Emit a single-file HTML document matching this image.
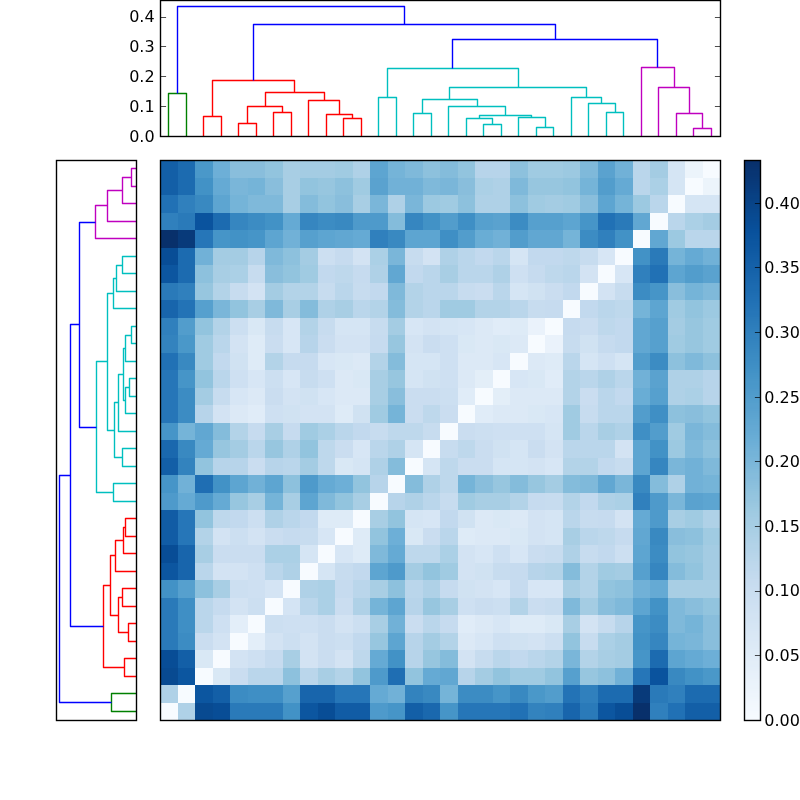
<!DOCTYPE html>
<html><head><meta charset="utf-8"><title>Clustered distance heatmap</title>
<style>html,body{margin:0;padding:0;background:#fff}body{width:800px;height:800px;overflow:hidden}svg{display:block}text{font-family:"DejaVu Sans","Liberation Sans",sans-serif;font-size:16px;fill:#000}</style></head><body>
<svg width="800" height="800" viewBox="0 0 800 800">
<rect width="800" height="800" fill="#fff"/>
<g shape-rendering="crispEdges">
<rect x="160" y="703" width="18" height="17" fill="#f7fbff"/>
<rect x="178" y="703" width="17" height="17" fill="#afd1e7"/>
<rect x="195" y="703" width="18" height="17" fill="#084a91"/>
<rect x="213" y="703" width="17" height="17" fill="#084d96"/>
<rect x="230" y="703" width="53" height="17" fill="#2a7ab9"/>
<rect x="283" y="703" width="17" height="17" fill="#4292c6"/>
<rect x="300" y="703" width="18" height="17" fill="#0c56a0"/>
<rect x="318" y="703" width="17" height="17" fill="#084d96"/>
<rect x="335" y="703" width="35" height="17" fill="#115ca5"/>
<rect x="370" y="703" width="18" height="17" fill="#4e9acb"/>
<rect x="388" y="703" width="17" height="17" fill="#4695c8"/>
<rect x="405" y="703" width="18" height="17" fill="#135fa7"/>
<rect x="423" y="703" width="17" height="17" fill="#1a68ae"/>
<rect x="440" y="703" width="18" height="17" fill="#4695c8"/>
<rect x="458" y="703" width="52" height="17" fill="#2676b8"/>
<rect x="510" y="703" width="18" height="17" fill="#2171b5"/>
<rect x="528" y="703" width="17" height="17" fill="#3383be"/>
<rect x="545" y="703" width="18" height="17" fill="#3080bd"/>
<rect x="563" y="703" width="17" height="17" fill="#1865ac"/>
<rect x="580" y="703" width="18" height="17" fill="#2a7ab9"/>
<rect x="598" y="703" width="17" height="17" fill="#0c56a0"/>
<rect x="615" y="703" width="18" height="17" fill="#084d96"/>
<rect x="633" y="703" width="17" height="17" fill="#08306b"/>
<rect x="650" y="703" width="18" height="17" fill="#3080bd"/>
<rect x="668" y="703" width="17" height="17" fill="#2171b5"/>
<rect x="685" y="703" width="35" height="17" fill="#135fa7"/>
<rect x="160" y="685" width="18" height="18" fill="#afd1e7"/>
<rect x="178" y="685" width="17" height="18" fill="#f7fbff"/>
<rect x="195" y="685" width="18" height="18" fill="#0c56a0"/>
<rect x="213" y="685" width="17" height="18" fill="#135fa7"/>
<rect x="230" y="685" width="18" height="18" fill="#3c8cc3"/>
<rect x="248" y="685" width="35" height="18" fill="#3f8fc5"/>
<rect x="283" y="685" width="17" height="18" fill="#56a0ce"/>
<rect x="300" y="685" width="35" height="18" fill="#1865ac"/>
<rect x="335" y="685" width="35" height="18" fill="#2676b8"/>
<rect x="370" y="685" width="18" height="18" fill="#65aad4"/>
<rect x="388" y="685" width="17" height="18" fill="#71b1d7"/>
<rect x="405" y="685" width="18" height="18" fill="#3383be"/>
<rect x="423" y="685" width="17" height="18" fill="#3989c1"/>
<rect x="440" y="685" width="18" height="18" fill="#75b4d8"/>
<rect x="458" y="685" width="35" height="18" fill="#3c8cc3"/>
<rect x="493" y="685" width="17" height="18" fill="#4695c8"/>
<rect x="510" y="685" width="18" height="18" fill="#3989c1"/>
<rect x="528" y="685" width="17" height="18" fill="#4a98c9"/>
<rect x="545" y="685" width="18" height="18" fill="#529dcc"/>
<rect x="563" y="685" width="17" height="18" fill="#2373b6"/>
<rect x="580" y="685" width="18" height="18" fill="#3080bd"/>
<rect x="598" y="685" width="35" height="18" fill="#1c6bb0"/>
<rect x="633" y="685" width="17" height="18" fill="#083a7a"/>
<rect x="650" y="685" width="18" height="18" fill="#2a7ab9"/>
<rect x="668" y="685" width="17" height="18" fill="#3080bd"/>
<rect x="685" y="685" width="35" height="18" fill="#1c6bb0"/>
<rect x="160" y="668" width="18" height="17" fill="#084a91"/>
<rect x="178" y="668" width="17" height="17" fill="#0c56a0"/>
<rect x="195" y="668" width="18" height="17" fill="#f7fbff"/>
<rect x="213" y="668" width="17" height="17" fill="#d9e8f5"/>
<rect x="230" y="668" width="18" height="17" fill="#caddf0"/>
<rect x="248" y="668" width="35" height="17" fill="#bad6eb"/>
<rect x="283" y="668" width="17" height="17" fill="#8dc1dd"/>
<rect x="300" y="668" width="18" height="17" fill="#bad6eb"/>
<rect x="318" y="668" width="17" height="17" fill="#a8cee4"/>
<rect x="335" y="668" width="18" height="17" fill="#b3d3e8"/>
<rect x="353" y="668" width="17" height="17" fill="#92c4de"/>
<rect x="370" y="668" width="18" height="17" fill="#4e9acb"/>
<rect x="388" y="668" width="17" height="17" fill="#1f6eb3"/>
<rect x="405" y="668" width="18" height="17" fill="#92c4de"/>
<rect x="423" y="668" width="17" height="17" fill="#65aad4"/>
<rect x="440" y="668" width="18" height="17" fill="#61a7d2"/>
<rect x="458" y="668" width="17" height="17" fill="#b7d4ea"/>
<rect x="475" y="668" width="18" height="17" fill="#a4cce3"/>
<rect x="493" y="668" width="17" height="17" fill="#92c4de"/>
<rect x="510" y="668" width="35" height="17" fill="#a0cbe2"/>
<rect x="545" y="668" width="18" height="17" fill="#92c4de"/>
<rect x="563" y="668" width="17" height="17" fill="#56a0ce"/>
<rect x="580" y="668" width="18" height="17" fill="#97c6df"/>
<rect x="598" y="668" width="17" height="17" fill="#8dc1dd"/>
<rect x="615" y="668" width="18" height="17" fill="#71b1d7"/>
<rect x="633" y="668" width="17" height="17" fill="#2676b8"/>
<rect x="650" y="668" width="18" height="17" fill="#0a539e"/>
<rect x="668" y="668" width="17" height="17" fill="#3989c1"/>
<rect x="685" y="668" width="18" height="17" fill="#4292c6"/>
<rect x="703" y="668" width="17" height="17" fill="#4a98c9"/>
<rect x="160" y="650" width="18" height="18" fill="#084d96"/>
<rect x="178" y="650" width="17" height="18" fill="#135fa7"/>
<rect x="195" y="650" width="18" height="18" fill="#d9e8f5"/>
<rect x="213" y="650" width="17" height="18" fill="#f7fbff"/>
<rect x="230" y="650" width="18" height="18" fill="#d3e3f3"/>
<rect x="248" y="650" width="17" height="18" fill="#cee0f2"/>
<rect x="265" y="650" width="18" height="18" fill="#c6dbef"/>
<rect x="283" y="650" width="17" height="18" fill="#a8cee4"/>
<rect x="300" y="650" width="18" height="18" fill="#d3e3f3"/>
<rect x="318" y="650" width="17" height="18" fill="#caddf0"/>
<rect x="335" y="650" width="18" height="18" fill="#d3e3f3"/>
<rect x="353" y="650" width="17" height="18" fill="#bed8ec"/>
<rect x="370" y="650" width="18" height="18" fill="#65aad4"/>
<rect x="388" y="650" width="17" height="18" fill="#4292c6"/>
<rect x="405" y="650" width="18" height="18" fill="#b7d4ea"/>
<rect x="423" y="650" width="17" height="18" fill="#97c6df"/>
<rect x="440" y="650" width="18" height="18" fill="#84bcdb"/>
<rect x="458" y="650" width="17" height="18" fill="#d3e3f3"/>
<rect x="475" y="650" width="18" height="18" fill="#c7dcef"/>
<rect x="493" y="650" width="17" height="18" fill="#bad6eb"/>
<rect x="510" y="650" width="18" height="18" fill="#c2d9ee"/>
<rect x="528" y="650" width="17" height="18" fill="#bad6eb"/>
<rect x="545" y="650" width="18" height="18" fill="#b3d3e8"/>
<rect x="563" y="650" width="17" height="18" fill="#7ab6d9"/>
<rect x="580" y="650" width="18" height="18" fill="#b3d3e8"/>
<rect x="598" y="650" width="17" height="18" fill="#a8cee4"/>
<rect x="615" y="650" width="18" height="18" fill="#a4cce3"/>
<rect x="633" y="650" width="17" height="18" fill="#4695c8"/>
<rect x="650" y="650" width="18" height="18" fill="#1c6bb0"/>
<rect x="668" y="650" width="17" height="18" fill="#5da5d1"/>
<rect x="685" y="650" width="18" height="18" fill="#65aad4"/>
<rect x="703" y="650" width="17" height="18" fill="#6dafd7"/>
<rect x="160" y="633" width="18" height="17" fill="#2a7ab9"/>
<rect x="178" y="633" width="17" height="17" fill="#3c8cc3"/>
<rect x="195" y="633" width="18" height="17" fill="#caddf0"/>
<rect x="213" y="633" width="17" height="17" fill="#d3e3f3"/>
<rect x="230" y="633" width="18" height="17" fill="#f7fbff"/>
<rect x="248" y="633" width="17" height="17" fill="#e3eef9"/>
<rect x="265" y="633" width="18" height="17" fill="#d3e3f3"/>
<rect x="283" y="633" width="17" height="17" fill="#ccdff1"/>
<rect x="300" y="633" width="18" height="17" fill="#d3e3f3"/>
<rect x="318" y="633" width="17" height="17" fill="#caddf0"/>
<rect x="335" y="633" width="18" height="17" fill="#ccdff1"/>
<rect x="353" y="633" width="17" height="17" fill="#c2d9ee"/>
<rect x="370" y="633" width="18" height="17" fill="#97c6df"/>
<rect x="388" y="633" width="17" height="17" fill="#5da5d1"/>
<rect x="405" y="633" width="18" height="17" fill="#b7d4ea"/>
<rect x="423" y="633" width="17" height="17" fill="#a4cce3"/>
<rect x="440" y="633" width="18" height="17" fill="#b3d3e8"/>
<rect x="458" y="633" width="17" height="17" fill="#dce9f6"/>
<rect x="475" y="633" width="18" height="17" fill="#d7e6f5"/>
<rect x="493" y="633" width="17" height="17" fill="#cee0f2"/>
<rect x="510" y="633" width="18" height="17" fill="#d0e2f2"/>
<rect x="528" y="633" width="17" height="17" fill="#d3e3f3"/>
<rect x="545" y="633" width="18" height="17" fill="#ccdff1"/>
<rect x="563" y="633" width="17" height="17" fill="#92c4de"/>
<rect x="580" y="633" width="18" height="17" fill="#c7dcef"/>
<rect x="598" y="633" width="17" height="17" fill="#abd0e6"/>
<rect x="615" y="633" width="18" height="17" fill="#a4cce3"/>
<rect x="633" y="633" width="17" height="17" fill="#4292c6"/>
<rect x="650" y="633" width="18" height="17" fill="#3686c0"/>
<rect x="668" y="633" width="17" height="17" fill="#75b4d8"/>
<rect x="685" y="633" width="18" height="17" fill="#7ab6d9"/>
<rect x="703" y="633" width="17" height="17" fill="#89bedc"/>
<rect x="160" y="615" width="18" height="18" fill="#2a7ab9"/>
<rect x="178" y="615" width="17" height="18" fill="#3f8fc5"/>
<rect x="195" y="615" width="18" height="18" fill="#bad6eb"/>
<rect x="213" y="615" width="17" height="18" fill="#cee0f2"/>
<rect x="230" y="615" width="18" height="18" fill="#e3eef9"/>
<rect x="248" y="615" width="17" height="18" fill="#f7fbff"/>
<rect x="265" y="615" width="18" height="18" fill="#ccdff1"/>
<rect x="283" y="615" width="35" height="18" fill="#cee0f2"/>
<rect x="318" y="615" width="17" height="18" fill="#caddf0"/>
<rect x="335" y="615" width="18" height="18" fill="#d3e3f3"/>
<rect x="353" y="615" width="17" height="18" fill="#ccdff1"/>
<rect x="370" y="615" width="18" height="18" fill="#a8cee4"/>
<rect x="388" y="615" width="17" height="18" fill="#71b1d7"/>
<rect x="405" y="615" width="18" height="18" fill="#caddf0"/>
<rect x="423" y="615" width="17" height="18" fill="#bad6eb"/>
<rect x="440" y="615" width="18" height="18" fill="#c6dbef"/>
<rect x="458" y="615" width="17" height="18" fill="#e0ecf8"/>
<rect x="475" y="615" width="18" height="18" fill="#dce9f6"/>
<rect x="493" y="615" width="17" height="18" fill="#d7e6f5"/>
<rect x="510" y="615" width="35" height="18" fill="#deebf7"/>
<rect x="545" y="615" width="18" height="18" fill="#d9e8f5"/>
<rect x="563" y="615" width="17" height="18" fill="#a8cee4"/>
<rect x="580" y="615" width="18" height="18" fill="#d3e3f3"/>
<rect x="598" y="615" width="17" height="18" fill="#c7dcef"/>
<rect x="615" y="615" width="18" height="18" fill="#b7d4ea"/>
<rect x="633" y="615" width="17" height="18" fill="#4695c8"/>
<rect x="650" y="615" width="18" height="18" fill="#3c8cc3"/>
<rect x="668" y="615" width="17" height="18" fill="#7fb9da"/>
<rect x="685" y="615" width="18" height="18" fill="#75b4d8"/>
<rect x="703" y="615" width="17" height="18" fill="#89bedc"/>
<rect x="160" y="598" width="18" height="17" fill="#2a7ab9"/>
<rect x="178" y="598" width="17" height="17" fill="#3f8fc5"/>
<rect x="195" y="598" width="18" height="17" fill="#bad6eb"/>
<rect x="213" y="598" width="17" height="17" fill="#c6dbef"/>
<rect x="230" y="598" width="18" height="17" fill="#d3e3f3"/>
<rect x="248" y="598" width="17" height="17" fill="#ccdff1"/>
<rect x="265" y="598" width="18" height="17" fill="#f7fbff"/>
<rect x="283" y="598" width="17" height="17" fill="#d4e4f4"/>
<rect x="300" y="598" width="18" height="17" fill="#bad6eb"/>
<rect x="318" y="598" width="17" height="17" fill="#abd0e6"/>
<rect x="335" y="598" width="18" height="17" fill="#caddf0"/>
<rect x="353" y="598" width="17" height="17" fill="#afd1e7"/>
<rect x="370" y="598" width="18" height="17" fill="#75b4d8"/>
<rect x="388" y="598" width="17" height="17" fill="#5da5d1"/>
<rect x="405" y="598" width="18" height="17" fill="#b7d4ea"/>
<rect x="423" y="598" width="17" height="17" fill="#97c6df"/>
<rect x="440" y="598" width="18" height="17" fill="#a8cee4"/>
<rect x="458" y="598" width="17" height="17" fill="#cee0f2"/>
<rect x="475" y="598" width="18" height="17" fill="#caddf0"/>
<rect x="493" y="598" width="17" height="17" fill="#ccdff1"/>
<rect x="510" y="598" width="18" height="17" fill="#b3d3e8"/>
<rect x="528" y="598" width="17" height="17" fill="#caddf0"/>
<rect x="545" y="598" width="18" height="17" fill="#c7dcef"/>
<rect x="563" y="598" width="17" height="17" fill="#7fb9da"/>
<rect x="580" y="598" width="18" height="17" fill="#a4cce3"/>
<rect x="598" y="598" width="17" height="17" fill="#89bedc"/>
<rect x="615" y="598" width="18" height="17" fill="#7fb9da"/>
<rect x="633" y="598" width="17" height="17" fill="#5da5d1"/>
<rect x="650" y="598" width="18" height="17" fill="#4292c6"/>
<rect x="668" y="598" width="17" height="17" fill="#7fb9da"/>
<rect x="685" y="598" width="18" height="17" fill="#89bedc"/>
<rect x="703" y="598" width="17" height="17" fill="#92c4de"/>
<rect x="160" y="580" width="18" height="18" fill="#4292c6"/>
<rect x="178" y="580" width="17" height="18" fill="#56a0ce"/>
<rect x="195" y="580" width="18" height="18" fill="#8dc1dd"/>
<rect x="213" y="580" width="17" height="18" fill="#a8cee4"/>
<rect x="230" y="580" width="18" height="18" fill="#ccdff1"/>
<rect x="248" y="580" width="17" height="18" fill="#cee0f2"/>
<rect x="265" y="580" width="18" height="18" fill="#d4e4f4"/>
<rect x="283" y="580" width="17" height="18" fill="#f7fbff"/>
<rect x="300" y="580" width="18" height="18" fill="#afd1e7"/>
<rect x="318" y="580" width="17" height="18" fill="#abd0e6"/>
<rect x="335" y="580" width="18" height="18" fill="#c6dbef"/>
<rect x="353" y="580" width="17" height="18" fill="#bad6eb"/>
<rect x="370" y="580" width="18" height="18" fill="#a8cee4"/>
<rect x="388" y="580" width="17" height="18" fill="#8dc1dd"/>
<rect x="405" y="580" width="18" height="18" fill="#bad6eb"/>
<rect x="423" y="580" width="17" height="18" fill="#afd1e7"/>
<rect x="440" y="580" width="18" height="18" fill="#c6dbef"/>
<rect x="458" y="580" width="17" height="18" fill="#d0e2f2"/>
<rect x="475" y="580" width="18" height="18" fill="#d3e3f3"/>
<rect x="493" y="580" width="17" height="18" fill="#d7e6f5"/>
<rect x="510" y="580" width="18" height="18" fill="#c6dbef"/>
<rect x="528" y="580" width="35" height="18" fill="#d7e6f5"/>
<rect x="563" y="580" width="17" height="18" fill="#a8cee4"/>
<rect x="580" y="580" width="18" height="18" fill="#b3d3e8"/>
<rect x="598" y="580" width="17" height="18" fill="#92c4de"/>
<rect x="615" y="580" width="18" height="18" fill="#8dc1dd"/>
<rect x="633" y="580" width="17" height="18" fill="#71b1d7"/>
<rect x="650" y="580" width="18" height="18" fill="#65aad4"/>
<rect x="668" y="580" width="52" height="18" fill="#a8cee4"/>
<rect x="160" y="563" width="18" height="17" fill="#0c56a0"/>
<rect x="178" y="563" width="17" height="17" fill="#1865ac"/>
<rect x="195" y="563" width="18" height="17" fill="#bad6eb"/>
<rect x="213" y="563" width="35" height="17" fill="#d3e3f3"/>
<rect x="248" y="563" width="17" height="17" fill="#cee0f2"/>
<rect x="265" y="563" width="18" height="17" fill="#bad6eb"/>
<rect x="283" y="563" width="17" height="17" fill="#afd1e7"/>
<rect x="300" y="563" width="18" height="17" fill="#f7fbff"/>
<rect x="318" y="563" width="17" height="17" fill="#d5e5f4"/>
<rect x="335" y="563" width="18" height="17" fill="#c7dcef"/>
<rect x="353" y="563" width="17" height="17" fill="#c2d9ee"/>
<rect x="370" y="563" width="18" height="17" fill="#5da5d1"/>
<rect x="388" y="563" width="17" height="17" fill="#4e9acb"/>
<rect x="405" y="563" width="18" height="17" fill="#a4cce3"/>
<rect x="423" y="563" width="17" height="17" fill="#92c4de"/>
<rect x="440" y="563" width="18" height="17" fill="#a0cbe2"/>
<rect x="458" y="563" width="17" height="17" fill="#d3e3f3"/>
<rect x="475" y="563" width="18" height="17" fill="#d0e2f2"/>
<rect x="493" y="563" width="17" height="17" fill="#c7dcef"/>
<rect x="510" y="563" width="18" height="17" fill="#c6dbef"/>
<rect x="528" y="563" width="17" height="17" fill="#b7d4ea"/>
<rect x="545" y="563" width="18" height="17" fill="#b3d3e8"/>
<rect x="563" y="563" width="17" height="17" fill="#84bcdb"/>
<rect x="580" y="563" width="18" height="17" fill="#b3d3e8"/>
<rect x="598" y="563" width="17" height="17" fill="#a0cbe2"/>
<rect x="615" y="563" width="18" height="17" fill="#a4cce3"/>
<rect x="633" y="563" width="17" height="17" fill="#56a0ce"/>
<rect x="650" y="563" width="18" height="17" fill="#3686c0"/>
<rect x="668" y="563" width="17" height="17" fill="#84bcdb"/>
<rect x="685" y="563" width="18" height="17" fill="#92c4de"/>
<rect x="703" y="563" width="17" height="17" fill="#a4cce3"/>
<rect x="160" y="545" width="18" height="18" fill="#084d96"/>
<rect x="178" y="545" width="17" height="18" fill="#1865ac"/>
<rect x="195" y="545" width="18" height="18" fill="#a8cee4"/>
<rect x="213" y="545" width="52" height="18" fill="#caddf0"/>
<rect x="265" y="545" width="35" height="18" fill="#abd0e6"/>
<rect x="300" y="545" width="18" height="18" fill="#d5e5f4"/>
<rect x="318" y="545" width="17" height="18" fill="#f7fbff"/>
<rect x="335" y="545" width="18" height="18" fill="#d7e6f5"/>
<rect x="353" y="545" width="17" height="18" fill="#deebf7"/>
<rect x="370" y="545" width="18" height="18" fill="#7fb9da"/>
<rect x="388" y="545" width="17" height="18" fill="#65aad4"/>
<rect x="405" y="545" width="35" height="18" fill="#bed8ec"/>
<rect x="440" y="545" width="18" height="18" fill="#abd0e6"/>
<rect x="458" y="545" width="17" height="18" fill="#d3e3f3"/>
<rect x="475" y="545" width="18" height="18" fill="#d7e6f5"/>
<rect x="493" y="545" width="17" height="18" fill="#cee0f2"/>
<rect x="510" y="545" width="18" height="18" fill="#d7e6f5"/>
<rect x="528" y="545" width="17" height="18" fill="#caddf0"/>
<rect x="545" y="545" width="18" height="18" fill="#c7dcef"/>
<rect x="563" y="545" width="17" height="18" fill="#afd1e7"/>
<rect x="580" y="545" width="18" height="18" fill="#c7dcef"/>
<rect x="598" y="545" width="17" height="18" fill="#c2d9ee"/>
<rect x="615" y="545" width="18" height="18" fill="#ccdff1"/>
<rect x="633" y="545" width="17" height="18" fill="#5da5d1"/>
<rect x="650" y="545" width="18" height="18" fill="#3c8cc3"/>
<rect x="668" y="545" width="17" height="18" fill="#92c4de"/>
<rect x="685" y="545" width="18" height="18" fill="#97c6df"/>
<rect x="703" y="545" width="17" height="18" fill="#a4cce3"/>
<rect x="160" y="528" width="18" height="17" fill="#115ca5"/>
<rect x="178" y="528" width="17" height="17" fill="#2676b8"/>
<rect x="195" y="528" width="18" height="17" fill="#b3d3e8"/>
<rect x="213" y="528" width="17" height="17" fill="#d3e3f3"/>
<rect x="230" y="528" width="18" height="17" fill="#ccdff1"/>
<rect x="248" y="528" width="17" height="17" fill="#d3e3f3"/>
<rect x="265" y="528" width="18" height="17" fill="#caddf0"/>
<rect x="283" y="528" width="17" height="17" fill="#c6dbef"/>
<rect x="300" y="528" width="18" height="17" fill="#c7dcef"/>
<rect x="318" y="528" width="17" height="17" fill="#d7e6f5"/>
<rect x="335" y="528" width="18" height="17" fill="#f7fbff"/>
<rect x="353" y="528" width="17" height="17" fill="#deebf7"/>
<rect x="370" y="528" width="18" height="17" fill="#92c4de"/>
<rect x="388" y="528" width="17" height="17" fill="#6dafd7"/>
<rect x="405" y="528" width="18" height="17" fill="#d9e8f5"/>
<rect x="423" y="528" width="17" height="17" fill="#caddf0"/>
<rect x="440" y="528" width="18" height="17" fill="#bad6eb"/>
<rect x="458" y="528" width="17" height="17" fill="#deebf7"/>
<rect x="475" y="528" width="35" height="17" fill="#dce9f6"/>
<rect x="510" y="528" width="18" height="17" fill="#d9e8f5"/>
<rect x="528" y="528" width="17" height="17" fill="#d3e3f3"/>
<rect x="545" y="528" width="18" height="17" fill="#d5e5f4"/>
<rect x="563" y="528" width="17" height="17" fill="#a8cee4"/>
<rect x="580" y="528" width="18" height="17" fill="#bad6eb"/>
<rect x="598" y="528" width="17" height="17" fill="#bed8ec"/>
<rect x="615" y="528" width="18" height="17" fill="#c6dbef"/>
<rect x="633" y="528" width="17" height="17" fill="#61a7d2"/>
<rect x="650" y="528" width="18" height="17" fill="#3989c1"/>
<rect x="668" y="528" width="17" height="17" fill="#89bedc"/>
<rect x="685" y="528" width="18" height="17" fill="#8dc1dd"/>
<rect x="703" y="528" width="17" height="17" fill="#a0cbe2"/>
<rect x="160" y="510" width="18" height="18" fill="#115ca5"/>
<rect x="178" y="510" width="17" height="18" fill="#2676b8"/>
<rect x="195" y="510" width="18" height="18" fill="#92c4de"/>
<rect x="213" y="510" width="17" height="18" fill="#bed8ec"/>
<rect x="230" y="510" width="18" height="18" fill="#c2d9ee"/>
<rect x="248" y="510" width="17" height="18" fill="#ccdff1"/>
<rect x="265" y="510" width="18" height="18" fill="#afd1e7"/>
<rect x="283" y="510" width="17" height="18" fill="#bad6eb"/>
<rect x="300" y="510" width="18" height="18" fill="#c2d9ee"/>
<rect x="318" y="510" width="35" height="18" fill="#deebf7"/>
<rect x="353" y="510" width="17" height="18" fill="#f7fbff"/>
<rect x="370" y="510" width="18" height="18" fill="#a8cee4"/>
<rect x="388" y="510" width="17" height="18" fill="#92c4de"/>
<rect x="405" y="510" width="18" height="18" fill="#d5e5f4"/>
<rect x="423" y="510" width="17" height="18" fill="#d7e6f5"/>
<rect x="440" y="510" width="18" height="18" fill="#c2d9ee"/>
<rect x="458" y="510" width="17" height="18" fill="#d0e2f2"/>
<rect x="475" y="510" width="18" height="18" fill="#dce9f6"/>
<rect x="493" y="510" width="17" height="18" fill="#d9e8f5"/>
<rect x="510" y="510" width="18" height="18" fill="#dce9f6"/>
<rect x="528" y="510" width="17" height="18" fill="#d3e3f3"/>
<rect x="545" y="510" width="18" height="18" fill="#d5e5f4"/>
<rect x="563" y="510" width="17" height="18" fill="#bad6eb"/>
<rect x="580" y="510" width="18" height="18" fill="#c7dcef"/>
<rect x="598" y="510" width="17" height="18" fill="#c6dbef"/>
<rect x="615" y="510" width="18" height="18" fill="#d3e3f3"/>
<rect x="633" y="510" width="17" height="18" fill="#65aad4"/>
<rect x="650" y="510" width="18" height="18" fill="#4e9acb"/>
<rect x="668" y="510" width="17" height="18" fill="#a8cee4"/>
<rect x="685" y="510" width="18" height="18" fill="#a0cbe2"/>
<rect x="703" y="510" width="17" height="18" fill="#afd1e7"/>
<rect x="160" y="493" width="18" height="17" fill="#4e9acb"/>
<rect x="178" y="493" width="17" height="17" fill="#65aad4"/>
<rect x="195" y="493" width="18" height="17" fill="#4e9acb"/>
<rect x="213" y="493" width="17" height="17" fill="#65aad4"/>
<rect x="230" y="493" width="18" height="17" fill="#97c6df"/>
<rect x="248" y="493" width="17" height="17" fill="#a8cee4"/>
<rect x="265" y="493" width="18" height="17" fill="#75b4d8"/>
<rect x="283" y="493" width="17" height="17" fill="#a8cee4"/>
<rect x="300" y="493" width="18" height="17" fill="#5da5d1"/>
<rect x="318" y="493" width="17" height="17" fill="#7fb9da"/>
<rect x="335" y="493" width="18" height="17" fill="#92c4de"/>
<rect x="353" y="493" width="17" height="17" fill="#a8cee4"/>
<rect x="370" y="493" width="18" height="17" fill="#f7fbff"/>
<rect x="388" y="493" width="17" height="17" fill="#b7d4ea"/>
<rect x="405" y="493" width="18" height="17" fill="#afd1e7"/>
<rect x="423" y="493" width="17" height="17" fill="#bad6eb"/>
<rect x="440" y="493" width="18" height="17" fill="#c7dcef"/>
<rect x="458" y="493" width="17" height="17" fill="#a0cbe2"/>
<rect x="475" y="493" width="35" height="17" fill="#a8cee4"/>
<rect x="510" y="493" width="18" height="17" fill="#b3d3e8"/>
<rect x="528" y="493" width="17" height="17" fill="#c6dbef"/>
<rect x="545" y="493" width="18" height="17" fill="#c7dcef"/>
<rect x="563" y="493" width="17" height="17" fill="#b3d3e8"/>
<rect x="580" y="493" width="18" height="17" fill="#c2d9ee"/>
<rect x="598" y="493" width="17" height="17" fill="#afd1e7"/>
<rect x="615" y="493" width="18" height="17" fill="#abd0e6"/>
<rect x="633" y="493" width="17" height="17" fill="#3080bd"/>
<rect x="650" y="493" width="18" height="17" fill="#4e9acb"/>
<rect x="668" y="493" width="17" height="17" fill="#7ab6d9"/>
<rect x="685" y="493" width="18" height="17" fill="#5aa2cf"/>
<rect x="703" y="493" width="17" height="17" fill="#5da5d1"/>
<rect x="160" y="475" width="18" height="18" fill="#4695c8"/>
<rect x="178" y="475" width="17" height="18" fill="#71b1d7"/>
<rect x="195" y="475" width="18" height="18" fill="#1f6eb3"/>
<rect x="213" y="475" width="17" height="18" fill="#4292c6"/>
<rect x="230" y="475" width="18" height="18" fill="#5da5d1"/>
<rect x="248" y="475" width="17" height="18" fill="#71b1d7"/>
<rect x="265" y="475" width="18" height="18" fill="#5da5d1"/>
<rect x="283" y="475" width="17" height="18" fill="#8dc1dd"/>
<rect x="300" y="475" width="18" height="18" fill="#4e9acb"/>
<rect x="318" y="475" width="17" height="18" fill="#65aad4"/>
<rect x="335" y="475" width="18" height="18" fill="#6dafd7"/>
<rect x="353" y="475" width="17" height="18" fill="#92c4de"/>
<rect x="370" y="475" width="18" height="18" fill="#b7d4ea"/>
<rect x="388" y="475" width="17" height="18" fill="#f7fbff"/>
<rect x="405" y="475" width="18" height="18" fill="#84bcdb"/>
<rect x="423" y="475" width="17" height="18" fill="#afd1e7"/>
<rect x="440" y="475" width="18" height="18" fill="#bed8ec"/>
<rect x="458" y="475" width="17" height="18" fill="#75b4d8"/>
<rect x="475" y="475" width="18" height="18" fill="#89bedc"/>
<rect x="493" y="475" width="17" height="18" fill="#97c6df"/>
<rect x="510" y="475" width="18" height="18" fill="#84bcdb"/>
<rect x="528" y="475" width="17" height="18" fill="#97c6df"/>
<rect x="545" y="475" width="18" height="18" fill="#a4cce3"/>
<rect x="563" y="475" width="17" height="18" fill="#84bcdb"/>
<rect x="580" y="475" width="18" height="18" fill="#7fb9da"/>
<rect x="598" y="475" width="17" height="18" fill="#61a7d2"/>
<rect x="615" y="475" width="18" height="18" fill="#7ab6d9"/>
<rect x="633" y="475" width="17" height="18" fill="#3989c1"/>
<rect x="650" y="475" width="18" height="18" fill="#84bcdb"/>
<rect x="668" y="475" width="17" height="18" fill="#afd1e7"/>
<rect x="685" y="475" width="18" height="18" fill="#71b1d7"/>
<rect x="703" y="475" width="17" height="18" fill="#75b4d8"/>
<rect x="160" y="458" width="18" height="17" fill="#135fa7"/>
<rect x="178" y="458" width="17" height="17" fill="#3383be"/>
<rect x="195" y="458" width="18" height="17" fill="#92c4de"/>
<rect x="213" y="458" width="35" height="17" fill="#b7d4ea"/>
<rect x="248" y="458" width="17" height="17" fill="#caddf0"/>
<rect x="265" y="458" width="18" height="17" fill="#b7d4ea"/>
<rect x="283" y="458" width="17" height="17" fill="#bad6eb"/>
<rect x="300" y="458" width="18" height="17" fill="#a4cce3"/>
<rect x="318" y="458" width="17" height="17" fill="#bed8ec"/>
<rect x="335" y="458" width="18" height="17" fill="#d9e8f5"/>
<rect x="353" y="458" width="17" height="17" fill="#d5e5f4"/>
<rect x="370" y="458" width="18" height="17" fill="#afd1e7"/>
<rect x="388" y="458" width="17" height="17" fill="#84bcdb"/>
<rect x="405" y="458" width="18" height="17" fill="#f7fbff"/>
<rect x="423" y="458" width="17" height="17" fill="#d5e5f4"/>
<rect x="440" y="458" width="18" height="17" fill="#bed8ec"/>
<rect x="458" y="458" width="35" height="17" fill="#caddf0"/>
<rect x="493" y="458" width="35" height="17" fill="#d5e5f4"/>
<rect x="528" y="458" width="17" height="17" fill="#d3e3f3"/>
<rect x="545" y="458" width="18" height="17" fill="#d7e6f5"/>
<rect x="563" y="458" width="35" height="17" fill="#b3d3e8"/>
<rect x="598" y="458" width="17" height="17" fill="#c2d9ee"/>
<rect x="615" y="458" width="18" height="17" fill="#c7dcef"/>
<rect x="633" y="458" width="17" height="17" fill="#5da5d1"/>
<rect x="650" y="458" width="18" height="17" fill="#3686c0"/>
<rect x="668" y="458" width="17" height="17" fill="#7ab6d9"/>
<rect x="685" y="458" width="18" height="17" fill="#71b1d7"/>
<rect x="703" y="458" width="17" height="17" fill="#7fb9da"/>
<rect x="160" y="440" width="18" height="18" fill="#1a68ae"/>
<rect x="178" y="440" width="17" height="18" fill="#3989c1"/>
<rect x="195" y="440" width="18" height="18" fill="#65aad4"/>
<rect x="213" y="440" width="17" height="18" fill="#97c6df"/>
<rect x="230" y="440" width="18" height="18" fill="#a4cce3"/>
<rect x="248" y="440" width="17" height="18" fill="#bad6eb"/>
<rect x="265" y="440" width="18" height="18" fill="#97c6df"/>
<rect x="283" y="440" width="17" height="18" fill="#afd1e7"/>
<rect x="300" y="440" width="18" height="18" fill="#92c4de"/>
<rect x="318" y="440" width="17" height="18" fill="#bed8ec"/>
<rect x="335" y="440" width="18" height="18" fill="#caddf0"/>
<rect x="353" y="440" width="17" height="18" fill="#d7e6f5"/>
<rect x="370" y="440" width="18" height="18" fill="#bad6eb"/>
<rect x="388" y="440" width="17" height="18" fill="#afd1e7"/>
<rect x="405" y="440" width="18" height="18" fill="#d5e5f4"/>
<rect x="423" y="440" width="17" height="18" fill="#f7fbff"/>
<rect x="440" y="440" width="18" height="18" fill="#c7dcef"/>
<rect x="458" y="440" width="17" height="18" fill="#bed8ec"/>
<rect x="475" y="440" width="18" height="18" fill="#caddf0"/>
<rect x="493" y="440" width="17" height="18" fill="#d0e2f2"/>
<rect x="510" y="440" width="18" height="18" fill="#d5e5f4"/>
<rect x="528" y="440" width="17" height="18" fill="#caddf0"/>
<rect x="545" y="440" width="18" height="18" fill="#d3e3f3"/>
<rect x="563" y="440" width="52" height="18" fill="#bad6eb"/>
<rect x="615" y="440" width="18" height="18" fill="#d3e3f3"/>
<rect x="633" y="440" width="17" height="18" fill="#5da5d1"/>
<rect x="650" y="440" width="18" height="18" fill="#4292c6"/>
<rect x="668" y="440" width="17" height="18" fill="#9cc9e1"/>
<rect x="685" y="440" width="18" height="18" fill="#7fb9da"/>
<rect x="703" y="440" width="17" height="18" fill="#8dc1dd"/>
<rect x="160" y="423" width="18" height="17" fill="#4695c8"/>
<rect x="178" y="423" width="17" height="17" fill="#75b4d8"/>
<rect x="195" y="423" width="18" height="17" fill="#61a7d2"/>
<rect x="213" y="423" width="17" height="17" fill="#84bcdb"/>
<rect x="230" y="423" width="18" height="17" fill="#b3d3e8"/>
<rect x="248" y="423" width="17" height="17" fill="#c6dbef"/>
<rect x="265" y="423" width="18" height="17" fill="#a8cee4"/>
<rect x="283" y="423" width="17" height="17" fill="#c6dbef"/>
<rect x="300" y="423" width="18" height="17" fill="#a0cbe2"/>
<rect x="318" y="423" width="17" height="17" fill="#abd0e6"/>
<rect x="335" y="423" width="18" height="17" fill="#bad6eb"/>
<rect x="353" y="423" width="17" height="17" fill="#c2d9ee"/>
<rect x="370" y="423" width="18" height="17" fill="#c7dcef"/>
<rect x="388" y="423" width="35" height="17" fill="#bed8ec"/>
<rect x="423" y="423" width="17" height="17" fill="#c7dcef"/>
<rect x="440" y="423" width="18" height="17" fill="#f7fbff"/>
<rect x="458" y="423" width="17" height="17" fill="#caddf0"/>
<rect x="475" y="423" width="18" height="17" fill="#ccdff1"/>
<rect x="493" y="423" width="52" height="17" fill="#cee0f2"/>
<rect x="545" y="423" width="18" height="17" fill="#d5e5f4"/>
<rect x="563" y="423" width="17" height="17" fill="#a0cbe2"/>
<rect x="580" y="423" width="18" height="17" fill="#bad6eb"/>
<rect x="598" y="423" width="17" height="17" fill="#a8cee4"/>
<rect x="615" y="423" width="18" height="17" fill="#afd1e7"/>
<rect x="633" y="423" width="17" height="17" fill="#3f8fc5"/>
<rect x="650" y="423" width="18" height="17" fill="#529dcc"/>
<rect x="668" y="423" width="17" height="17" fill="#a0cbe2"/>
<rect x="685" y="423" width="18" height="17" fill="#7ab6d9"/>
<rect x="703" y="423" width="17" height="17" fill="#84bcdb"/>
<rect x="160" y="405" width="18" height="18" fill="#2676b8"/>
<rect x="178" y="405" width="17" height="18" fill="#3c8cc3"/>
<rect x="195" y="405" width="18" height="18" fill="#b7d4ea"/>
<rect x="213" y="405" width="17" height="18" fill="#d3e3f3"/>
<rect x="230" y="405" width="18" height="18" fill="#dce9f6"/>
<rect x="248" y="405" width="17" height="18" fill="#e0ecf8"/>
<rect x="265" y="405" width="18" height="18" fill="#cee0f2"/>
<rect x="283" y="405" width="17" height="18" fill="#d0e2f2"/>
<rect x="300" y="405" width="35" height="18" fill="#d3e3f3"/>
<rect x="335" y="405" width="18" height="18" fill="#deebf7"/>
<rect x="353" y="405" width="17" height="18" fill="#d0e2f2"/>
<rect x="370" y="405" width="18" height="18" fill="#a0cbe2"/>
<rect x="388" y="405" width="17" height="18" fill="#75b4d8"/>
<rect x="405" y="405" width="18" height="18" fill="#caddf0"/>
<rect x="423" y="405" width="17" height="18" fill="#bed8ec"/>
<rect x="440" y="405" width="18" height="18" fill="#caddf0"/>
<rect x="458" y="405" width="17" height="18" fill="#f7fbff"/>
<rect x="475" y="405" width="18" height="18" fill="#e0ecf8"/>
<rect x="493" y="405" width="35" height="18" fill="#dce9f6"/>
<rect x="528" y="405" width="17" height="18" fill="#d9e8f5"/>
<rect x="545" y="405" width="18" height="18" fill="#d7e6f5"/>
<rect x="563" y="405" width="17" height="18" fill="#a0cbe2"/>
<rect x="580" y="405" width="18" height="18" fill="#c7dcef"/>
<rect x="598" y="405" width="35" height="18" fill="#bad6eb"/>
<rect x="633" y="405" width="17" height="18" fill="#529dcc"/>
<rect x="650" y="405" width="18" height="18" fill="#3f8fc5"/>
<rect x="668" y="405" width="17" height="18" fill="#8dc1dd"/>
<rect x="685" y="405" width="18" height="18" fill="#89bedc"/>
<rect x="703" y="405" width="17" height="18" fill="#92c4de"/>
<rect x="160" y="388" width="18" height="17" fill="#2676b8"/>
<rect x="178" y="388" width="17" height="17" fill="#3c8cc3"/>
<rect x="195" y="388" width="18" height="17" fill="#a4cce3"/>
<rect x="213" y="388" width="17" height="17" fill="#c7dcef"/>
<rect x="230" y="388" width="18" height="17" fill="#d7e6f5"/>
<rect x="248" y="388" width="17" height="17" fill="#dce9f6"/>
<rect x="265" y="388" width="18" height="17" fill="#caddf0"/>
<rect x="283" y="388" width="17" height="17" fill="#d3e3f3"/>
<rect x="300" y="388" width="18" height="17" fill="#d0e2f2"/>
<rect x="318" y="388" width="17" height="17" fill="#d7e6f5"/>
<rect x="335" y="388" width="35" height="17" fill="#dce9f6"/>
<rect x="370" y="388" width="18" height="17" fill="#a8cee4"/>
<rect x="388" y="388" width="17" height="17" fill="#89bedc"/>
<rect x="405" y="388" width="35" height="17" fill="#caddf0"/>
<rect x="440" y="388" width="18" height="17" fill="#ccdff1"/>
<rect x="458" y="388" width="17" height="17" fill="#e0ecf8"/>
<rect x="475" y="388" width="18" height="17" fill="#f7fbff"/>
<rect x="493" y="388" width="17" height="17" fill="#e3eef8"/>
<rect x="510" y="388" width="53" height="17" fill="#dce9f6"/>
<rect x="563" y="388" width="17" height="17" fill="#b3d3e8"/>
<rect x="580" y="388" width="18" height="17" fill="#caddf0"/>
<rect x="598" y="388" width="17" height="17" fill="#bad6eb"/>
<rect x="615" y="388" width="18" height="17" fill="#c2d9ee"/>
<rect x="633" y="388" width="17" height="17" fill="#69add5"/>
<rect x="650" y="388" width="18" height="17" fill="#56a0ce"/>
<rect x="668" y="388" width="17" height="17" fill="#afd1e7"/>
<rect x="685" y="388" width="18" height="17" fill="#abd0e6"/>
<rect x="703" y="388" width="17" height="17" fill="#b7d4ea"/>
<rect x="160" y="370" width="18" height="18" fill="#2676b8"/>
<rect x="178" y="370" width="17" height="18" fill="#4695c8"/>
<rect x="195" y="370" width="18" height="18" fill="#92c4de"/>
<rect x="213" y="370" width="17" height="18" fill="#bad6eb"/>
<rect x="230" y="370" width="18" height="18" fill="#cee0f2"/>
<rect x="248" y="370" width="17" height="18" fill="#d7e6f5"/>
<rect x="265" y="370" width="18" height="18" fill="#ccdff1"/>
<rect x="283" y="370" width="17" height="18" fill="#d7e6f5"/>
<rect x="300" y="370" width="18" height="18" fill="#c7dcef"/>
<rect x="318" y="370" width="17" height="18" fill="#cee0f2"/>
<rect x="335" y="370" width="18" height="18" fill="#dce9f6"/>
<rect x="353" y="370" width="17" height="18" fill="#d9e8f5"/>
<rect x="370" y="370" width="18" height="18" fill="#a8cee4"/>
<rect x="388" y="370" width="17" height="18" fill="#97c6df"/>
<rect x="405" y="370" width="18" height="18" fill="#d5e5f4"/>
<rect x="423" y="370" width="17" height="18" fill="#d0e2f2"/>
<rect x="440" y="370" width="18" height="18" fill="#cee0f2"/>
<rect x="458" y="370" width="17" height="18" fill="#dce9f6"/>
<rect x="475" y="370" width="18" height="18" fill="#e3eef8"/>
<rect x="493" y="370" width="17" height="18" fill="#f7fbff"/>
<rect x="510" y="370" width="18" height="18" fill="#d7e6f5"/>
<rect x="528" y="370" width="17" height="18" fill="#d9e8f5"/>
<rect x="545" y="370" width="18" height="18" fill="#e0ecf8"/>
<rect x="563" y="370" width="17" height="18" fill="#b3d3e8"/>
<rect x="580" y="370" width="18" height="18" fill="#bad6eb"/>
<rect x="598" y="370" width="17" height="18" fill="#afd1e7"/>
<rect x="615" y="370" width="18" height="18" fill="#bad6eb"/>
<rect x="633" y="370" width="17" height="18" fill="#71b1d7"/>
<rect x="650" y="370" width="18" height="18" fill="#5aa2cf"/>
<rect x="668" y="370" width="35" height="18" fill="#afd1e7"/>
<rect x="703" y="370" width="17" height="18" fill="#b7d4ea"/>
<rect x="160" y="353" width="18" height="17" fill="#2171b5"/>
<rect x="178" y="353" width="17" height="17" fill="#3989c1"/>
<rect x="195" y="353" width="18" height="17" fill="#a0cbe2"/>
<rect x="213" y="353" width="17" height="17" fill="#c2d9ee"/>
<rect x="230" y="353" width="18" height="17" fill="#d0e2f2"/>
<rect x="248" y="353" width="17" height="17" fill="#deebf7"/>
<rect x="265" y="353" width="18" height="17" fill="#b3d3e8"/>
<rect x="283" y="353" width="35" height="17" fill="#c6dbef"/>
<rect x="318" y="353" width="17" height="17" fill="#d7e6f5"/>
<rect x="335" y="353" width="18" height="17" fill="#d9e8f5"/>
<rect x="353" y="353" width="17" height="17" fill="#dce9f6"/>
<rect x="370" y="353" width="18" height="17" fill="#b3d3e8"/>
<rect x="388" y="353" width="17" height="17" fill="#84bcdb"/>
<rect x="405" y="353" width="35" height="17" fill="#d5e5f4"/>
<rect x="440" y="353" width="18" height="17" fill="#cee0f2"/>
<rect x="458" y="353" width="35" height="17" fill="#dce9f6"/>
<rect x="493" y="353" width="17" height="17" fill="#d7e6f5"/>
<rect x="510" y="353" width="18" height="17" fill="#f7fbff"/>
<rect x="528" y="353" width="17" height="17" fill="#dce9f6"/>
<rect x="545" y="353" width="18" height="17" fill="#deebf7"/>
<rect x="563" y="353" width="17" height="17" fill="#bad6eb"/>
<rect x="580" y="353" width="18" height="17" fill="#d5e5f4"/>
<rect x="598" y="353" width="17" height="17" fill="#cee0f2"/>
<rect x="615" y="353" width="18" height="17" fill="#d5e5f4"/>
<rect x="633" y="353" width="17" height="17" fill="#529dcc"/>
<rect x="650" y="353" width="18" height="17" fill="#3c8cc3"/>
<rect x="668" y="353" width="17" height="17" fill="#8dc1dd"/>
<rect x="685" y="353" width="18" height="17" fill="#7fb9da"/>
<rect x="703" y="353" width="17" height="17" fill="#8dc1dd"/>
<rect x="160" y="335" width="18" height="18" fill="#3383be"/>
<rect x="178" y="335" width="17" height="18" fill="#4a98c9"/>
<rect x="195" y="335" width="18" height="18" fill="#a0cbe2"/>
<rect x="213" y="335" width="17" height="18" fill="#bad6eb"/>
<rect x="230" y="335" width="18" height="18" fill="#d3e3f3"/>
<rect x="248" y="335" width="17" height="18" fill="#deebf7"/>
<rect x="265" y="335" width="18" height="18" fill="#caddf0"/>
<rect x="283" y="335" width="17" height="18" fill="#d7e6f5"/>
<rect x="300" y="335" width="18" height="18" fill="#b7d4ea"/>
<rect x="318" y="335" width="17" height="18" fill="#caddf0"/>
<rect x="335" y="335" width="35" height="18" fill="#d3e3f3"/>
<rect x="370" y="335" width="18" height="18" fill="#c6dbef"/>
<rect x="388" y="335" width="17" height="18" fill="#97c6df"/>
<rect x="405" y="335" width="18" height="18" fill="#d3e3f3"/>
<rect x="423" y="335" width="17" height="18" fill="#caddf0"/>
<rect x="440" y="335" width="18" height="18" fill="#cee0f2"/>
<rect x="458" y="335" width="17" height="18" fill="#d9e8f5"/>
<rect x="475" y="335" width="18" height="18" fill="#dce9f6"/>
<rect x="493" y="335" width="17" height="18" fill="#d9e8f5"/>
<rect x="510" y="335" width="18" height="18" fill="#dce9f6"/>
<rect x="528" y="335" width="17" height="18" fill="#f7fbff"/>
<rect x="545" y="335" width="18" height="18" fill="#eaf2fb"/>
<rect x="563" y="335" width="17" height="18" fill="#c7dcef"/>
<rect x="580" y="335" width="18" height="18" fill="#d0e2f2"/>
<rect x="598" y="335" width="17" height="18" fill="#c6dbef"/>
<rect x="615" y="335" width="18" height="18" fill="#c2d9ee"/>
<rect x="633" y="335" width="17" height="18" fill="#61a7d2"/>
<rect x="650" y="335" width="18" height="18" fill="#56a0ce"/>
<rect x="668" y="335" width="17" height="18" fill="#a0cbe2"/>
<rect x="685" y="335" width="18" height="18" fill="#97c6df"/>
<rect x="703" y="335" width="17" height="18" fill="#a0cbe2"/>
<rect x="160" y="318" width="18" height="17" fill="#3080bd"/>
<rect x="178" y="318" width="17" height="17" fill="#529dcc"/>
<rect x="195" y="318" width="18" height="17" fill="#92c4de"/>
<rect x="213" y="318" width="17" height="17" fill="#b3d3e8"/>
<rect x="230" y="318" width="18" height="17" fill="#ccdff1"/>
<rect x="248" y="318" width="17" height="17" fill="#d9e8f5"/>
<rect x="265" y="318" width="18" height="17" fill="#c7dcef"/>
<rect x="283" y="318" width="17" height="17" fill="#d7e6f5"/>
<rect x="300" y="318" width="18" height="17" fill="#b3d3e8"/>
<rect x="318" y="318" width="17" height="17" fill="#c7dcef"/>
<rect x="335" y="318" width="35" height="17" fill="#d5e5f4"/>
<rect x="370" y="318" width="18" height="17" fill="#c7dcef"/>
<rect x="388" y="318" width="17" height="17" fill="#a4cce3"/>
<rect x="405" y="318" width="18" height="17" fill="#d7e6f5"/>
<rect x="423" y="318" width="17" height="17" fill="#d3e3f3"/>
<rect x="440" y="318" width="18" height="17" fill="#d5e5f4"/>
<rect x="458" y="318" width="17" height="17" fill="#d7e6f5"/>
<rect x="475" y="318" width="18" height="17" fill="#dce9f6"/>
<rect x="493" y="318" width="17" height="17" fill="#e0ecf8"/>
<rect x="510" y="318" width="18" height="17" fill="#deebf7"/>
<rect x="528" y="318" width="17" height="17" fill="#eaf2fb"/>
<rect x="545" y="318" width="18" height="17" fill="#f7fbff"/>
<rect x="563" y="318" width="17" height="17" fill="#c6dbef"/>
<rect x="580" y="318" width="18" height="17" fill="#caddf0"/>
<rect x="598" y="318" width="17" height="17" fill="#bed8ec"/>
<rect x="615" y="318" width="18" height="17" fill="#c2d9ee"/>
<rect x="633" y="318" width="17" height="17" fill="#61a7d2"/>
<rect x="650" y="318" width="18" height="17" fill="#56a0ce"/>
<rect x="668" y="318" width="17" height="17" fill="#a4cce3"/>
<rect x="685" y="318" width="18" height="17" fill="#97c6df"/>
<rect x="703" y="318" width="17" height="17" fill="#a0cbe2"/>
<rect x="160" y="300" width="18" height="18" fill="#1865ac"/>
<rect x="178" y="300" width="17" height="18" fill="#2373b6"/>
<rect x="195" y="300" width="18" height="18" fill="#56a0ce"/>
<rect x="213" y="300" width="17" height="18" fill="#7ab6d9"/>
<rect x="230" y="300" width="18" height="18" fill="#92c4de"/>
<rect x="248" y="300" width="17" height="18" fill="#a8cee4"/>
<rect x="265" y="300" width="18" height="18" fill="#7fb9da"/>
<rect x="283" y="300" width="17" height="18" fill="#a8cee4"/>
<rect x="300" y="300" width="18" height="18" fill="#84bcdb"/>
<rect x="318" y="300" width="17" height="18" fill="#afd1e7"/>
<rect x="335" y="300" width="18" height="18" fill="#a8cee4"/>
<rect x="353" y="300" width="17" height="18" fill="#bad6eb"/>
<rect x="370" y="300" width="18" height="18" fill="#b3d3e8"/>
<rect x="388" y="300" width="17" height="18" fill="#84bcdb"/>
<rect x="405" y="300" width="18" height="18" fill="#b3d3e8"/>
<rect x="423" y="300" width="17" height="18" fill="#bad6eb"/>
<rect x="440" y="300" width="35" height="18" fill="#a0cbe2"/>
<rect x="475" y="300" width="35" height="18" fill="#b3d3e8"/>
<rect x="510" y="300" width="18" height="18" fill="#bad6eb"/>
<rect x="528" y="300" width="17" height="18" fill="#c7dcef"/>
<rect x="545" y="300" width="18" height="18" fill="#c6dbef"/>
<rect x="563" y="300" width="17" height="18" fill="#f7fbff"/>
<rect x="580" y="300" width="18" height="18" fill="#c2d9ee"/>
<rect x="598" y="300" width="17" height="18" fill="#bad6eb"/>
<rect x="615" y="300" width="18" height="18" fill="#bed8ec"/>
<rect x="633" y="300" width="17" height="18" fill="#75b4d8"/>
<rect x="650" y="300" width="18" height="18" fill="#5da5d1"/>
<rect x="668" y="300" width="17" height="18" fill="#a0cbe2"/>
<rect x="685" y="300" width="18" height="18" fill="#92c4de"/>
<rect x="703" y="300" width="17" height="18" fill="#9cc9e1"/>
<rect x="160" y="283" width="18" height="17" fill="#2a7ab9"/>
<rect x="178" y="283" width="17" height="17" fill="#3080bd"/>
<rect x="195" y="283" width="18" height="17" fill="#97c6df"/>
<rect x="213" y="283" width="17" height="17" fill="#b3d3e8"/>
<rect x="230" y="283" width="18" height="17" fill="#c7dcef"/>
<rect x="248" y="283" width="17" height="17" fill="#d3e3f3"/>
<rect x="265" y="283" width="18" height="17" fill="#a4cce3"/>
<rect x="283" y="283" width="35" height="17" fill="#b3d3e8"/>
<rect x="318" y="283" width="17" height="17" fill="#c7dcef"/>
<rect x="335" y="283" width="18" height="17" fill="#bad6eb"/>
<rect x="353" y="283" width="17" height="17" fill="#c7dcef"/>
<rect x="370" y="283" width="18" height="17" fill="#c2d9ee"/>
<rect x="388" y="283" width="17" height="17" fill="#7fb9da"/>
<rect x="405" y="283" width="18" height="17" fill="#b3d3e8"/>
<rect x="423" y="283" width="35" height="17" fill="#bad6eb"/>
<rect x="458" y="283" width="17" height="17" fill="#c7dcef"/>
<rect x="475" y="283" width="18" height="17" fill="#caddf0"/>
<rect x="493" y="283" width="17" height="17" fill="#bad6eb"/>
<rect x="510" y="283" width="18" height="17" fill="#d5e5f4"/>
<rect x="528" y="283" width="17" height="17" fill="#d0e2f2"/>
<rect x="545" y="283" width="18" height="17" fill="#caddf0"/>
<rect x="563" y="283" width="17" height="17" fill="#c2d9ee"/>
<rect x="580" y="283" width="18" height="17" fill="#f7fbff"/>
<rect x="598" y="283" width="17" height="17" fill="#d3e3f3"/>
<rect x="615" y="283" width="18" height="17" fill="#c7dcef"/>
<rect x="633" y="283" width="17" height="17" fill="#3c8cc3"/>
<rect x="650" y="283" width="18" height="17" fill="#4695c8"/>
<rect x="668" y="283" width="17" height="17" fill="#89bedc"/>
<rect x="685" y="283" width="18" height="17" fill="#75b4d8"/>
<rect x="703" y="283" width="17" height="17" fill="#7fb9da"/>
<rect x="160" y="265" width="18" height="18" fill="#0c56a0"/>
<rect x="178" y="265" width="17" height="18" fill="#1c6bb0"/>
<rect x="195" y="265" width="18" height="18" fill="#8dc1dd"/>
<rect x="213" y="265" width="17" height="18" fill="#a8cee4"/>
<rect x="230" y="265" width="18" height="18" fill="#abd0e6"/>
<rect x="248" y="265" width="17" height="18" fill="#c7dcef"/>
<rect x="265" y="265" width="18" height="18" fill="#89bedc"/>
<rect x="283" y="265" width="17" height="18" fill="#92c4de"/>
<rect x="300" y="265" width="18" height="18" fill="#a0cbe2"/>
<rect x="318" y="265" width="17" height="18" fill="#c2d9ee"/>
<rect x="335" y="265" width="18" height="18" fill="#bed8ec"/>
<rect x="353" y="265" width="17" height="18" fill="#c6dbef"/>
<rect x="370" y="265" width="18" height="18" fill="#afd1e7"/>
<rect x="388" y="265" width="17" height="18" fill="#61a7d2"/>
<rect x="405" y="265" width="18" height="18" fill="#c2d9ee"/>
<rect x="423" y="265" width="17" height="18" fill="#bad6eb"/>
<rect x="440" y="265" width="18" height="18" fill="#a8cee4"/>
<rect x="458" y="265" width="35" height="18" fill="#bad6eb"/>
<rect x="493" y="265" width="17" height="18" fill="#afd1e7"/>
<rect x="510" y="265" width="18" height="18" fill="#cee0f2"/>
<rect x="528" y="265" width="17" height="18" fill="#c6dbef"/>
<rect x="545" y="265" width="18" height="18" fill="#bed8ec"/>
<rect x="563" y="265" width="17" height="18" fill="#bad6eb"/>
<rect x="580" y="265" width="18" height="18" fill="#d3e3f3"/>
<rect x="598" y="265" width="17" height="18" fill="#f7fbff"/>
<rect x="615" y="265" width="18" height="18" fill="#d7e6f5"/>
<rect x="633" y="265" width="17" height="18" fill="#3080bd"/>
<rect x="650" y="265" width="18" height="18" fill="#2171b5"/>
<rect x="668" y="265" width="17" height="18" fill="#5da5d1"/>
<rect x="685" y="265" width="18" height="18" fill="#529dcc"/>
<rect x="703" y="265" width="17" height="18" fill="#5aa2cf"/>
<rect x="160" y="248" width="18" height="17" fill="#084d96"/>
<rect x="178" y="248" width="17" height="17" fill="#1c6bb0"/>
<rect x="195" y="248" width="18" height="17" fill="#71b1d7"/>
<rect x="213" y="248" width="35" height="17" fill="#a4cce3"/>
<rect x="248" y="248" width="17" height="17" fill="#b7d4ea"/>
<rect x="265" y="248" width="18" height="17" fill="#7fb9da"/>
<rect x="283" y="248" width="17" height="17" fill="#8dc1dd"/>
<rect x="300" y="248" width="18" height="17" fill="#a4cce3"/>
<rect x="318" y="248" width="17" height="17" fill="#ccdff1"/>
<rect x="335" y="248" width="18" height="17" fill="#c6dbef"/>
<rect x="353" y="248" width="17" height="17" fill="#d3e3f3"/>
<rect x="370" y="248" width="18" height="17" fill="#abd0e6"/>
<rect x="388" y="248" width="17" height="17" fill="#7ab6d9"/>
<rect x="405" y="248" width="18" height="17" fill="#c7dcef"/>
<rect x="423" y="248" width="17" height="17" fill="#d3e3f3"/>
<rect x="440" y="248" width="18" height="17" fill="#afd1e7"/>
<rect x="458" y="248" width="17" height="17" fill="#bad6eb"/>
<rect x="475" y="248" width="18" height="17" fill="#c2d9ee"/>
<rect x="493" y="248" width="17" height="17" fill="#bad6eb"/>
<rect x="510" y="248" width="18" height="17" fill="#d5e5f4"/>
<rect x="528" y="248" width="35" height="17" fill="#c2d9ee"/>
<rect x="563" y="248" width="17" height="17" fill="#bed8ec"/>
<rect x="580" y="248" width="18" height="17" fill="#c7dcef"/>
<rect x="598" y="248" width="17" height="17" fill="#d7e6f5"/>
<rect x="615" y="248" width="18" height="17" fill="#f7fbff"/>
<rect x="633" y="248" width="17" height="17" fill="#4292c6"/>
<rect x="650" y="248" width="18" height="17" fill="#2a7ab9"/>
<rect x="668" y="248" width="17" height="17" fill="#75b4d8"/>
<rect x="685" y="248" width="18" height="17" fill="#65aad4"/>
<rect x="703" y="248" width="17" height="17" fill="#71b1d7"/>
<rect x="160" y="230" width="18" height="18" fill="#08306b"/>
<rect x="178" y="230" width="17" height="18" fill="#083a7a"/>
<rect x="195" y="230" width="18" height="18" fill="#2676b8"/>
<rect x="213" y="230" width="17" height="18" fill="#4695c8"/>
<rect x="230" y="230" width="18" height="18" fill="#4292c6"/>
<rect x="248" y="230" width="17" height="18" fill="#4695c8"/>
<rect x="265" y="230" width="18" height="18" fill="#5da5d1"/>
<rect x="283" y="230" width="17" height="18" fill="#71b1d7"/>
<rect x="300" y="230" width="18" height="18" fill="#56a0ce"/>
<rect x="318" y="230" width="17" height="18" fill="#5da5d1"/>
<rect x="335" y="230" width="18" height="18" fill="#61a7d2"/>
<rect x="353" y="230" width="17" height="18" fill="#65aad4"/>
<rect x="370" y="230" width="18" height="18" fill="#3080bd"/>
<rect x="388" y="230" width="17" height="18" fill="#3989c1"/>
<rect x="405" y="230" width="35" height="18" fill="#5da5d1"/>
<rect x="440" y="230" width="18" height="18" fill="#3f8fc5"/>
<rect x="458" y="230" width="17" height="18" fill="#529dcc"/>
<rect x="475" y="230" width="18" height="18" fill="#69add5"/>
<rect x="493" y="230" width="17" height="18" fill="#71b1d7"/>
<rect x="510" y="230" width="18" height="18" fill="#529dcc"/>
<rect x="528" y="230" width="35" height="18" fill="#61a7d2"/>
<rect x="563" y="230" width="17" height="18" fill="#75b4d8"/>
<rect x="580" y="230" width="18" height="18" fill="#3c8cc3"/>
<rect x="598" y="230" width="17" height="18" fill="#3080bd"/>
<rect x="615" y="230" width="18" height="18" fill="#4292c6"/>
<rect x="633" y="230" width="17" height="18" fill="#f7fbff"/>
<rect x="650" y="230" width="18" height="18" fill="#61a7d2"/>
<rect x="668" y="230" width="17" height="18" fill="#9cc9e1"/>
<rect x="685" y="230" width="35" height="18" fill="#bad6eb"/>
<rect x="160" y="213" width="18" height="17" fill="#3080bd"/>
<rect x="178" y="213" width="17" height="17" fill="#2a7ab9"/>
<rect x="195" y="213" width="18" height="17" fill="#0a539e"/>
<rect x="213" y="213" width="17" height="17" fill="#1c6bb0"/>
<rect x="230" y="213" width="18" height="17" fill="#3686c0"/>
<rect x="248" y="213" width="17" height="17" fill="#3c8cc3"/>
<rect x="265" y="213" width="18" height="17" fill="#4292c6"/>
<rect x="283" y="213" width="17" height="17" fill="#65aad4"/>
<rect x="300" y="213" width="18" height="17" fill="#3686c0"/>
<rect x="318" y="213" width="17" height="17" fill="#3c8cc3"/>
<rect x="335" y="213" width="18" height="17" fill="#3989c1"/>
<rect x="353" y="213" width="35" height="17" fill="#4e9acb"/>
<rect x="388" y="213" width="17" height="17" fill="#84bcdb"/>
<rect x="405" y="213" width="18" height="17" fill="#3686c0"/>
<rect x="423" y="213" width="17" height="17" fill="#4292c6"/>
<rect x="440" y="213" width="18" height="17" fill="#529dcc"/>
<rect x="458" y="213" width="17" height="17" fill="#3f8fc5"/>
<rect x="475" y="213" width="18" height="17" fill="#56a0ce"/>
<rect x="493" y="213" width="17" height="17" fill="#5aa2cf"/>
<rect x="510" y="213" width="18" height="17" fill="#3c8cc3"/>
<rect x="528" y="213" width="35" height="17" fill="#56a0ce"/>
<rect x="563" y="213" width="17" height="17" fill="#5da5d1"/>
<rect x="580" y="213" width="18" height="17" fill="#4695c8"/>
<rect x="598" y="213" width="17" height="17" fill="#2171b5"/>
<rect x="615" y="213" width="18" height="17" fill="#2a7ab9"/>
<rect x="633" y="213" width="17" height="17" fill="#61a7d2"/>
<rect x="650" y="213" width="18" height="17" fill="#f7fbff"/>
<rect x="668" y="213" width="17" height="17" fill="#bad6eb"/>
<rect x="685" y="213" width="18" height="17" fill="#abd0e6"/>
<rect x="703" y="213" width="17" height="17" fill="#a4cce3"/>
<rect x="160" y="195" width="18" height="18" fill="#2171b5"/>
<rect x="178" y="195" width="17" height="18" fill="#3080bd"/>
<rect x="195" y="195" width="18" height="18" fill="#3989c1"/>
<rect x="213" y="195" width="17" height="18" fill="#5da5d1"/>
<rect x="230" y="195" width="18" height="18" fill="#75b4d8"/>
<rect x="248" y="195" width="35" height="18" fill="#7fb9da"/>
<rect x="283" y="195" width="17" height="18" fill="#a8cee4"/>
<rect x="300" y="195" width="18" height="18" fill="#84bcdb"/>
<rect x="318" y="195" width="17" height="18" fill="#92c4de"/>
<rect x="335" y="195" width="18" height="18" fill="#89bedc"/>
<rect x="353" y="195" width="17" height="18" fill="#a8cee4"/>
<rect x="370" y="195" width="18" height="18" fill="#7ab6d9"/>
<rect x="388" y="195" width="17" height="18" fill="#afd1e7"/>
<rect x="405" y="195" width="18" height="18" fill="#7ab6d9"/>
<rect x="423" y="195" width="17" height="18" fill="#9cc9e1"/>
<rect x="440" y="195" width="18" height="18" fill="#a0cbe2"/>
<rect x="458" y="195" width="17" height="18" fill="#8dc1dd"/>
<rect x="475" y="195" width="35" height="18" fill="#afd1e7"/>
<rect x="510" y="195" width="18" height="18" fill="#8dc1dd"/>
<rect x="528" y="195" width="17" height="18" fill="#a0cbe2"/>
<rect x="545" y="195" width="18" height="18" fill="#a4cce3"/>
<rect x="563" y="195" width="17" height="18" fill="#a0cbe2"/>
<rect x="580" y="195" width="18" height="18" fill="#89bedc"/>
<rect x="598" y="195" width="17" height="18" fill="#5da5d1"/>
<rect x="615" y="195" width="18" height="18" fill="#75b4d8"/>
<rect x="633" y="195" width="17" height="18" fill="#9cc9e1"/>
<rect x="650" y="195" width="18" height="18" fill="#bad6eb"/>
<rect x="668" y="195" width="17" height="18" fill="#f7fbff"/>
<rect x="685" y="195" width="35" height="18" fill="#d5e5f4"/>
<rect x="160" y="178" width="18" height="17" fill="#135fa7"/>
<rect x="178" y="178" width="17" height="17" fill="#1c6bb0"/>
<rect x="195" y="178" width="18" height="17" fill="#4292c6"/>
<rect x="213" y="178" width="17" height="17" fill="#65aad4"/>
<rect x="230" y="178" width="18" height="17" fill="#7ab6d9"/>
<rect x="248" y="178" width="17" height="17" fill="#75b4d8"/>
<rect x="265" y="178" width="18" height="17" fill="#89bedc"/>
<rect x="283" y="178" width="17" height="17" fill="#a8cee4"/>
<rect x="300" y="178" width="18" height="17" fill="#92c4de"/>
<rect x="318" y="178" width="17" height="17" fill="#97c6df"/>
<rect x="335" y="178" width="18" height="17" fill="#8dc1dd"/>
<rect x="353" y="178" width="17" height="17" fill="#a0cbe2"/>
<rect x="370" y="178" width="18" height="17" fill="#5aa2cf"/>
<rect x="388" y="178" width="35" height="17" fill="#71b1d7"/>
<rect x="423" y="178" width="17" height="17" fill="#7fb9da"/>
<rect x="440" y="178" width="18" height="17" fill="#7ab6d9"/>
<rect x="458" y="178" width="17" height="17" fill="#89bedc"/>
<rect x="475" y="178" width="18" height="17" fill="#abd0e6"/>
<rect x="493" y="178" width="17" height="17" fill="#afd1e7"/>
<rect x="510" y="178" width="18" height="17" fill="#7fb9da"/>
<rect x="528" y="178" width="35" height="17" fill="#97c6df"/>
<rect x="563" y="178" width="17" height="17" fill="#92c4de"/>
<rect x="580" y="178" width="18" height="17" fill="#75b4d8"/>
<rect x="598" y="178" width="17" height="17" fill="#529dcc"/>
<rect x="615" y="178" width="18" height="17" fill="#65aad4"/>
<rect x="633" y="178" width="17" height="17" fill="#bad6eb"/>
<rect x="650" y="178" width="18" height="17" fill="#abd0e6"/>
<rect x="668" y="178" width="17" height="17" fill="#d5e5f4"/>
<rect x="685" y="178" width="18" height="17" fill="#f7fbff"/>
<rect x="703" y="178" width="17" height="17" fill="#ecf4fb"/>
<rect x="160" y="160" width="18" height="18" fill="#135fa7"/>
<rect x="178" y="160" width="17" height="18" fill="#1c6bb0"/>
<rect x="195" y="160" width="18" height="18" fill="#4a98c9"/>
<rect x="213" y="160" width="17" height="18" fill="#6dafd7"/>
<rect x="230" y="160" width="35" height="18" fill="#89bedc"/>
<rect x="265" y="160" width="18" height="18" fill="#92c4de"/>
<rect x="283" y="160" width="17" height="18" fill="#a8cee4"/>
<rect x="300" y="160" width="35" height="18" fill="#a4cce3"/>
<rect x="335" y="160" width="18" height="18" fill="#a0cbe2"/>
<rect x="353" y="160" width="17" height="18" fill="#afd1e7"/>
<rect x="370" y="160" width="18" height="18" fill="#5da5d1"/>
<rect x="388" y="160" width="17" height="18" fill="#75b4d8"/>
<rect x="405" y="160" width="18" height="18" fill="#7fb9da"/>
<rect x="423" y="160" width="17" height="18" fill="#8dc1dd"/>
<rect x="440" y="160" width="18" height="18" fill="#84bcdb"/>
<rect x="458" y="160" width="17" height="18" fill="#92c4de"/>
<rect x="475" y="160" width="35" height="18" fill="#b7d4ea"/>
<rect x="510" y="160" width="18" height="18" fill="#8dc1dd"/>
<rect x="528" y="160" width="35" height="18" fill="#a0cbe2"/>
<rect x="563" y="160" width="17" height="18" fill="#9cc9e1"/>
<rect x="580" y="160" width="18" height="18" fill="#7fb9da"/>
<rect x="598" y="160" width="17" height="18" fill="#5aa2cf"/>
<rect x="615" y="160" width="18" height="18" fill="#71b1d7"/>
<rect x="633" y="160" width="17" height="18" fill="#bad6eb"/>
<rect x="650" y="160" width="18" height="18" fill="#a4cce3"/>
<rect x="668" y="160" width="17" height="18" fill="#d5e5f4"/>
<rect x="685" y="160" width="18" height="18" fill="#ecf4fb"/>
<rect x="703" y="160" width="17" height="18" fill="#f7fbff"/>
</g>
<g shape-rendering="crispEdges">
<rect x="744.5" y="718.0" width="16.0" height="2.5" fill="#f7fbff"/>
<rect x="744.5" y="716.0" width="16.0" height="2.5" fill="#f6faff"/>
<rect x="744.5" y="714.0" width="16.0" height="2.5" fill="#f5fafe"/>
<rect x="744.5" y="712.0" width="16.0" height="2.5" fill="#f5f9fe"/>
<rect x="744.5" y="710.0" width="16.0" height="2.5" fill="#f4f9fe"/>
<rect x="744.5" y="708.0" width="16.0" height="2.5" fill="#f3f8fe"/>
<rect x="744.5" y="706.0" width="16.0" height="2.5" fill="#f3f8fe"/>
<rect x="744.5" y="704.0" width="16.0" height="2.5" fill="#f2f8fd"/>
<rect x="744.5" y="702.0" width="16.0" height="2.5" fill="#f2f7fd"/>
<rect x="744.5" y="700.0" width="16.0" height="2.5" fill="#f1f7fd"/>
<rect x="744.5" y="698.0" width="16.0" height="2.5" fill="#f0f6fd"/>
<rect x="744.5" y="696.0" width="16.0" height="2.5" fill="#eff6fc"/>
<rect x="744.5" y="694.0" width="16.0" height="2.5" fill="#eef5fc"/>
<rect x="744.5" y="692.0" width="16.0" height="2.5" fill="#eef5fc"/>
<rect x="744.5" y="690.0" width="16.0" height="2.5" fill="#edf4fc"/>
<rect x="744.5" y="688.0" width="16.0" height="2.5" fill="#ecf4fb"/>
<rect x="744.5" y="686.0" width="16.0" height="2.5" fill="#ebf3fb"/>
<rect x="744.5" y="684.0" width="16.0" height="2.5" fill="#ebf3fb"/>
<rect x="744.5" y="682.0" width="16.0" height="2.5" fill="#eaf3fb"/>
<rect x="744.5" y="680.0" width="16.0" height="2.5" fill="#eaf2fb"/>
<rect x="744.5" y="678.0" width="16.0" height="2.5" fill="#e9f2fa"/>
<rect x="744.5" y="676.0" width="16.0" height="2.5" fill="#e8f1fa"/>
<rect x="744.5" y="674.0" width="16.0" height="2.5" fill="#e7f1fa"/>
<rect x="744.5" y="672.0" width="16.0" height="2.5" fill="#e7f0fa"/>
<rect x="744.5" y="670.0" width="16.0" height="2.5" fill="#e6f0f9"/>
<rect x="744.5" y="668.0" width="16.0" height="2.5" fill="#e5eff9"/>
<rect x="744.5" y="666.0" width="16.0" height="2.5" fill="#e4eff9"/>
<rect x="744.5" y="664.0" width="16.0" height="2.5" fill="#e3eef9"/>
<rect x="744.5" y="662.0" width="16.0" height="2.5" fill="#e3eef8"/>
<rect x="744.5" y="660.0" width="16.0" height="2.5" fill="#e3eef8"/>
<rect x="744.5" y="658.0" width="16.0" height="2.5" fill="#e2edf8"/>
<rect x="744.5" y="656.0" width="16.0" height="2.5" fill="#e1edf8"/>
<rect x="744.5" y="654.0" width="16.0" height="2.5" fill="#e0ecf8"/>
<rect x="744.5" y="652.0" width="16.0" height="2.5" fill="#dfecf7"/>
<rect x="744.5" y="650.0" width="16.0" height="2.5" fill="#dfebf7"/>
<rect x="744.5" y="648.0" width="16.0" height="2.5" fill="#deebf7"/>
<rect x="744.5" y="646.0" width="16.0" height="2.5" fill="#ddeaf7"/>
<rect x="744.5" y="644.0" width="16.0" height="2.5" fill="#dceaf6"/>
<rect x="744.5" y="642.0" width="16.0" height="2.5" fill="#dce9f6"/>
<rect x="744.5" y="640.0" width="16.0" height="2.5" fill="#dbe9f6"/>
<rect x="744.5" y="638.0" width="16.0" height="2.5" fill="#dae8f6"/>
<rect x="744.5" y="636.0" width="16.0" height="2.5" fill="#dae8f6"/>
<rect x="744.5" y="634.0" width="16.0" height="2.5" fill="#d9e8f5"/>
<rect x="744.5" y="632.0" width="16.0" height="2.5" fill="#d9e7f5"/>
<rect x="744.5" y="630.0" width="16.0" height="2.5" fill="#d8e7f5"/>
<rect x="744.5" y="628.0" width="16.0" height="2.5" fill="#d7e6f5"/>
<rect x="744.5" y="626.0" width="16.0" height="2.5" fill="#d6e6f4"/>
<rect x="744.5" y="624.0" width="16.0" height="2.5" fill="#d6e5f4"/>
<rect x="744.5" y="622.0" width="16.0" height="2.5" fill="#d5e5f4"/>
<rect x="744.5" y="620.0" width="16.0" height="2.5" fill="#d4e4f4"/>
<rect x="744.5" y="618.0" width="16.0" height="2.5" fill="#d3e4f3"/>
<rect x="744.5" y="616.0" width="16.0" height="2.5" fill="#d3e3f3"/>
<rect x="744.5" y="614.0" width="16.0" height="2.5" fill="#d3e3f3"/>
<rect x="744.5" y="612.0" width="16.0" height="2.5" fill="#d2e3f3"/>
<rect x="744.5" y="610.0" width="16.0" height="2.5" fill="#d1e2f3"/>
<rect x="744.5" y="608.0" width="16.0" height="2.5" fill="#d0e2f2"/>
<rect x="744.5" y="606.0" width="16.0" height="2.5" fill="#d0e1f2"/>
<rect x="744.5" y="604.0" width="16.0" height="2.5" fill="#cfe1f2"/>
<rect x="744.5" y="602.0" width="16.0" height="2.5" fill="#cee0f2"/>
<rect x="744.5" y="600.0" width="16.0" height="2.5" fill="#cde0f1"/>
<rect x="744.5" y="598.0" width="16.0" height="2.5" fill="#cddff1"/>
<rect x="744.5" y="596.0" width="16.0" height="2.5" fill="#ccdff1"/>
<rect x="744.5" y="594.0" width="16.0" height="2.5" fill="#cbdef1"/>
<rect x="744.5" y="592.0" width="16.0" height="2.5" fill="#cadef0"/>
<rect x="744.5" y="590.0" width="16.0" height="2.5" fill="#cadef0"/>
<rect x="744.5" y="588.0" width="16.0" height="2.5" fill="#caddf0"/>
<rect x="744.5" y="586.0" width="16.0" height="2.5" fill="#c9ddf0"/>
<rect x="744.5" y="584.0" width="16.0" height="2.5" fill="#c8dcf0"/>
<rect x="744.5" y="582.0" width="16.0" height="2.5" fill="#c7dcef"/>
<rect x="744.5" y="580.0" width="16.0" height="2.5" fill="#c7dbef"/>
<rect x="744.5" y="578.0" width="16.0" height="2.5" fill="#c6dbef"/>
<rect x="744.5" y="576.0" width="16.0" height="2.5" fill="#c4daee"/>
<rect x="744.5" y="574.0" width="16.0" height="2.5" fill="#c3daee"/>
<rect x="744.5" y="572.0" width="16.0" height="2.5" fill="#c2d9ee"/>
<rect x="744.5" y="570.0" width="16.0" height="2.5" fill="#c1d9ed"/>
<rect x="744.5" y="568.0" width="16.0" height="2.5" fill="#bfd8ed"/>
<rect x="744.5" y="566.0" width="16.0" height="2.5" fill="#bfd8ed"/>
<rect x="744.5" y="564.0" width="16.0" height="2.5" fill="#bed8ec"/>
<rect x="744.5" y="562.0" width="16.0" height="2.5" fill="#bdd7ec"/>
<rect x="744.5" y="560.0" width="16.0" height="2.5" fill="#bcd7eb"/>
<rect x="744.5" y="558.0" width="16.0" height="2.5" fill="#bad6eb"/>
<rect x="744.5" y="556.0" width="16.0" height="2.5" fill="#b9d6ea"/>
<rect x="744.5" y="554.0" width="16.0" height="2.5" fill="#b8d5ea"/>
<rect x="744.5" y="552.0" width="16.0" height="2.5" fill="#b7d4ea"/>
<rect x="744.5" y="550.0" width="16.0" height="2.5" fill="#b5d4e9"/>
<rect x="744.5" y="548.0" width="16.0" height="2.5" fill="#b4d3e9"/>
<rect x="744.5" y="546.0" width="16.0" height="2.5" fill="#b3d3e8"/>
<rect x="744.5" y="544.0" width="16.0" height="2.5" fill="#b3d3e8"/>
<rect x="744.5" y="542.0" width="16.0" height="2.5" fill="#b2d2e8"/>
<rect x="744.5" y="540.0" width="16.0" height="2.5" fill="#b0d2e7"/>
<rect x="744.5" y="538.0" width="16.0" height="2.5" fill="#afd1e7"/>
<rect x="744.5" y="536.0" width="16.0" height="2.5" fill="#aed1e7"/>
<rect x="744.5" y="534.0" width="16.0" height="2.5" fill="#add0e6"/>
<rect x="744.5" y="532.0" width="16.0" height="2.5" fill="#abd0e6"/>
<rect x="744.5" y="530.0" width="16.0" height="2.5" fill="#aacfe5"/>
<rect x="744.5" y="528.0" width="16.0" height="2.5" fill="#a9cfe5"/>
<rect x="744.5" y="526.0" width="16.0" height="2.5" fill="#a8cee4"/>
<rect x="744.5" y="524.0" width="16.0" height="2.5" fill="#a6cee4"/>
<rect x="744.5" y="522.0" width="16.0" height="2.5" fill="#a5cde3"/>
<rect x="744.5" y="520.0" width="16.0" height="2.5" fill="#a5cde3"/>
<rect x="744.5" y="518.0" width="16.0" height="2.5" fill="#a4cce3"/>
<rect x="744.5" y="516.0" width="16.0" height="2.5" fill="#a3cce3"/>
<rect x="744.5" y="514.0" width="16.0" height="2.5" fill="#a1cbe2"/>
<rect x="744.5" y="512.0" width="16.0" height="2.5" fill="#a0cbe2"/>
<rect x="744.5" y="510.0" width="16.0" height="2.5" fill="#9fcae1"/>
<rect x="744.5" y="508.0" width="16.0" height="2.5" fill="#9dcae1"/>
<rect x="744.5" y="506.0" width="16.0" height="2.5" fill="#9cc9e1"/>
<rect x="744.5" y="504.0" width="16.0" height="2.5" fill="#9ac8e0"/>
<rect x="744.5" y="502.0" width="16.0" height="2.5" fill="#99c7e0"/>
<rect x="744.5" y="500.0" width="16.0" height="2.5" fill="#97c6df"/>
<rect x="744.5" y="498.0" width="16.0" height="2.5" fill="#95c5df"/>
<rect x="744.5" y="496.0" width="16.0" height="2.5" fill="#95c5df"/>
<rect x="744.5" y="494.0" width="16.0" height="2.5" fill="#94c4df"/>
<rect x="744.5" y="492.0" width="16.0" height="2.5" fill="#92c4de"/>
<rect x="744.5" y="490.0" width="16.0" height="2.5" fill="#91c3de"/>
<rect x="744.5" y="488.0" width="16.0" height="2.5" fill="#8fc2de"/>
<rect x="744.5" y="486.0" width="16.0" height="2.5" fill="#8dc1dd"/>
<rect x="744.5" y="484.0" width="16.0" height="2.5" fill="#8cc0dd"/>
<rect x="744.5" y="482.0" width="16.0" height="2.5" fill="#8abfdd"/>
<rect x="744.5" y="480.0" width="16.0" height="2.5" fill="#89bedc"/>
<rect x="744.5" y="478.0" width="16.0" height="2.5" fill="#87bddc"/>
<rect x="744.5" y="476.0" width="16.0" height="2.5" fill="#85bcdc"/>
<rect x="744.5" y="474.0" width="16.0" height="2.5" fill="#85bcdc"/>
<rect x="744.5" y="472.0" width="16.0" height="2.5" fill="#84bcdb"/>
<rect x="744.5" y="470.0" width="16.0" height="2.5" fill="#82bbdb"/>
<rect x="744.5" y="468.0" width="16.0" height="2.5" fill="#81badb"/>
<rect x="744.5" y="466.0" width="16.0" height="2.5" fill="#7fb9da"/>
<rect x="744.5" y="464.0" width="16.0" height="2.5" fill="#7db8da"/>
<rect x="744.5" y="462.0" width="16.0" height="2.5" fill="#7cb7da"/>
<rect x="744.5" y="460.0" width="16.0" height="2.5" fill="#7ab6d9"/>
<rect x="744.5" y="458.0" width="16.0" height="2.5" fill="#79b5d9"/>
<rect x="744.5" y="456.0" width="16.0" height="2.5" fill="#77b5d9"/>
<rect x="744.5" y="454.0" width="16.0" height="2.5" fill="#75b4d8"/>
<rect x="744.5" y="452.0" width="16.0" height="2.5" fill="#74b3d8"/>
<rect x="744.5" y="450.0" width="16.0" height="2.5" fill="#74b3d8"/>
<rect x="744.5" y="448.0" width="16.0" height="2.5" fill="#72b2d8"/>
<rect x="744.5" y="446.0" width="16.0" height="2.5" fill="#71b1d7"/>
<rect x="744.5" y="444.0" width="16.0" height="2.5" fill="#6fb0d7"/>
<rect x="744.5" y="442.0" width="16.0" height="2.5" fill="#6dafd7"/>
<rect x="744.5" y="440.0" width="16.0" height="2.5" fill="#6caed6"/>
<rect x="744.5" y="438.0" width="16.0" height="2.5" fill="#6aaed6"/>
<rect x="744.5" y="436.0" width="16.0" height="2.5" fill="#69add5"/>
<rect x="744.5" y="434.0" width="16.0" height="2.5" fill="#68acd5"/>
<rect x="744.5" y="432.0" width="16.0" height="2.5" fill="#66abd4"/>
<rect x="744.5" y="430.0" width="16.0" height="2.5" fill="#65aad4"/>
<rect x="744.5" y="428.0" width="16.0" height="2.5" fill="#64a9d3"/>
<rect x="744.5" y="426.0" width="16.0" height="2.5" fill="#64a9d3"/>
<rect x="744.5" y="424.0" width="16.0" height="2.5" fill="#63a8d3"/>
<rect x="744.5" y="422.0" width="16.0" height="2.5" fill="#61a7d2"/>
<rect x="744.5" y="420.0" width="16.0" height="2.5" fill="#60a7d2"/>
<rect x="744.5" y="418.0" width="16.0" height="2.5" fill="#5fa6d1"/>
<rect x="744.5" y="416.0" width="16.0" height="2.5" fill="#5da5d1"/>
<rect x="744.5" y="414.0" width="16.0" height="2.5" fill="#5ca4d0"/>
<rect x="744.5" y="412.0" width="16.0" height="2.5" fill="#5ba3d0"/>
<rect x="744.5" y="410.0" width="16.0" height="2.5" fill="#5aa2cf"/>
<rect x="744.5" y="408.0" width="16.0" height="2.5" fill="#58a1cf"/>
<rect x="744.5" y="406.0" width="16.0" height="2.5" fill="#57a0ce"/>
<rect x="744.5" y="404.0" width="16.0" height="2.5" fill="#57a0ce"/>
<rect x="744.5" y="402.0" width="16.0" height="2.5" fill="#56a0ce"/>
<rect x="744.5" y="400.0" width="16.0" height="2.5" fill="#549fcd"/>
<rect x="744.5" y="398.0" width="16.0" height="2.5" fill="#539ecd"/>
<rect x="744.5" y="396.0" width="16.0" height="2.5" fill="#529dcc"/>
<rect x="744.5" y="394.0" width="16.0" height="2.5" fill="#519ccc"/>
<rect x="744.5" y="392.0" width="16.0" height="2.5" fill="#4f9bcb"/>
<rect x="744.5" y="390.0" width="16.0" height="2.5" fill="#4e9acb"/>
<rect x="744.5" y="388.0" width="16.0" height="2.5" fill="#4d99ca"/>
<rect x="744.5" y="386.0" width="16.0" height="2.5" fill="#4b98ca"/>
<rect x="744.5" y="384.0" width="16.0" height="2.5" fill="#4a98c9"/>
<rect x="744.5" y="382.0" width="16.0" height="2.5" fill="#4997c9"/>
<rect x="744.5" y="380.0" width="16.0" height="2.5" fill="#4997c9"/>
<rect x="744.5" y="378.0" width="16.0" height="2.5" fill="#4896c8"/>
<rect x="744.5" y="376.0" width="16.0" height="2.5" fill="#4695c8"/>
<rect x="744.5" y="374.0" width="16.0" height="2.5" fill="#4594c7"/>
<rect x="744.5" y="372.0" width="16.0" height="2.5" fill="#4493c7"/>
<rect x="744.5" y="370.0" width="16.0" height="2.5" fill="#4292c6"/>
<rect x="744.5" y="368.0" width="16.0" height="2.5" fill="#4191c6"/>
<rect x="744.5" y="366.0" width="16.0" height="2.5" fill="#4090c5"/>
<rect x="744.5" y="364.0" width="16.0" height="2.5" fill="#3f8fc5"/>
<rect x="744.5" y="362.0" width="16.0" height="2.5" fill="#3e8ec4"/>
<rect x="744.5" y="360.0" width="16.0" height="2.5" fill="#3d8dc4"/>
<rect x="744.5" y="358.0" width="16.0" height="2.5" fill="#3c8cc3"/>
<rect x="744.5" y="356.0" width="16.0" height="2.5" fill="#3c8cc3"/>
<rect x="744.5" y="354.0" width="16.0" height="2.5" fill="#3b8bc2"/>
<rect x="744.5" y="352.0" width="16.0" height="2.5" fill="#3a8ac2"/>
<rect x="744.5" y="350.0" width="16.0" height="2.5" fill="#3989c1"/>
<rect x="744.5" y="348.0" width="16.0" height="2.5" fill="#3888c1"/>
<rect x="744.5" y="346.0" width="16.0" height="2.5" fill="#3787c0"/>
<rect x="744.5" y="344.0" width="16.0" height="2.5" fill="#3686c0"/>
<rect x="744.5" y="342.0" width="16.0" height="2.5" fill="#3585bf"/>
<rect x="744.5" y="340.0" width="16.0" height="2.5" fill="#3484bf"/>
<rect x="744.5" y="338.0" width="16.0" height="2.5" fill="#3383be"/>
<rect x="744.5" y="336.0" width="16.0" height="2.5" fill="#3282be"/>
<rect x="744.5" y="334.0" width="16.0" height="2.5" fill="#3282be"/>
<rect x="744.5" y="332.0" width="16.0" height="2.5" fill="#3181bd"/>
<rect x="744.5" y="330.0" width="16.0" height="2.5" fill="#3080bd"/>
<rect x="744.5" y="328.0" width="16.0" height="2.5" fill="#2f7fbc"/>
<rect x="744.5" y="326.0" width="16.0" height="2.5" fill="#2e7ebc"/>
<rect x="744.5" y="324.0" width="16.0" height="2.5" fill="#2d7dbb"/>
<rect x="744.5" y="322.0" width="16.0" height="2.5" fill="#2c7cba"/>
<rect x="744.5" y="320.0" width="16.0" height="2.5" fill="#2b7bba"/>
<rect x="744.5" y="318.0" width="16.0" height="2.5" fill="#2a7ab9"/>
<rect x="744.5" y="316.0" width="16.0" height="2.5" fill="#2979b9"/>
<rect x="744.5" y="314.0" width="16.0" height="2.5" fill="#2777b8"/>
<rect x="744.5" y="312.0" width="16.0" height="2.5" fill="#2676b8"/>
<rect x="744.5" y="310.0" width="16.0" height="2.5" fill="#2676b8"/>
<rect x="744.5" y="308.0" width="16.0" height="2.5" fill="#2575b7"/>
<rect x="744.5" y="306.0" width="16.0" height="2.5" fill="#2474b7"/>
<rect x="744.5" y="304.0" width="16.0" height="2.5" fill="#2373b6"/>
<rect x="744.5" y="302.0" width="16.0" height="2.5" fill="#2272b6"/>
<rect x="744.5" y="300.0" width="16.0" height="2.5" fill="#2171b5"/>
<rect x="744.5" y="298.0" width="16.0" height="2.5" fill="#2070b4"/>
<rect x="744.5" y="296.0" width="16.0" height="2.5" fill="#206fb4"/>
<rect x="744.5" y="294.0" width="16.0" height="2.5" fill="#1f6eb3"/>
<rect x="744.5" y="292.0" width="16.0" height="2.5" fill="#1e6db2"/>
<rect x="744.5" y="290.0" width="16.0" height="2.5" fill="#1d6cb1"/>
<rect x="744.5" y="288.0" width="16.0" height="2.5" fill="#1c6bb0"/>
<rect x="744.5" y="286.0" width="16.0" height="2.5" fill="#1c6bb0"/>
<rect x="744.5" y="284.0" width="16.0" height="2.5" fill="#1c6ab0"/>
<rect x="744.5" y="282.0" width="16.0" height="2.5" fill="#1b69af"/>
<rect x="744.5" y="280.0" width="16.0" height="2.5" fill="#1a68ae"/>
<rect x="744.5" y="278.0" width="16.0" height="2.5" fill="#1967ad"/>
<rect x="744.5" y="276.0" width="16.0" height="2.5" fill="#1966ad"/>
<rect x="744.5" y="274.0" width="16.0" height="2.5" fill="#1865ac"/>
<rect x="744.5" y="272.0" width="16.0" height="2.5" fill="#1764ab"/>
<rect x="744.5" y="270.0" width="16.0" height="2.5" fill="#1663aa"/>
<rect x="744.5" y="268.0" width="16.0" height="2.5" fill="#1562a9"/>
<rect x="744.5" y="266.0" width="16.0" height="2.5" fill="#1561a9"/>
<rect x="744.5" y="264.0" width="16.0" height="2.5" fill="#1561a9"/>
<rect x="744.5" y="262.0" width="16.0" height="2.5" fill="#1460a8"/>
<rect x="744.5" y="260.0" width="16.0" height="2.5" fill="#135fa7"/>
<rect x="744.5" y="258.0" width="16.0" height="2.5" fill="#125ea6"/>
<rect x="744.5" y="256.0" width="16.0" height="2.5" fill="#125da6"/>
<rect x="744.5" y="254.0" width="16.0" height="2.5" fill="#115ca5"/>
<rect x="744.5" y="252.0" width="16.0" height="2.5" fill="#105ba4"/>
<rect x="744.5" y="250.0" width="16.0" height="2.5" fill="#0f5aa3"/>
<rect x="744.5" y="248.0" width="16.0" height="2.5" fill="#0e59a2"/>
<rect x="744.5" y="246.0" width="16.0" height="2.5" fill="#0e58a2"/>
<rect x="744.5" y="244.0" width="16.0" height="2.5" fill="#0d57a1"/>
<rect x="744.5" y="242.0" width="16.0" height="2.5" fill="#0c56a0"/>
<rect x="744.5" y="240.0" width="16.0" height="2.5" fill="#0c56a0"/>
<rect x="744.5" y="238.0" width="16.0" height="2.5" fill="#0b559f"/>
<rect x="744.5" y="236.0" width="16.0" height="2.5" fill="#0a549e"/>
<rect x="744.5" y="234.0" width="16.0" height="2.5" fill="#0a539e"/>
<rect x="744.5" y="232.0" width="16.0" height="2.5" fill="#09529d"/>
<rect x="744.5" y="230.0" width="16.0" height="2.5" fill="#08519c"/>
<rect x="744.5" y="228.0" width="16.0" height="2.5" fill="#08509b"/>
<rect x="744.5" y="226.0" width="16.0" height="2.5" fill="#084f99"/>
<rect x="744.5" y="224.0" width="16.0" height="2.5" fill="#084e98"/>
<rect x="744.5" y="222.0" width="16.0" height="2.5" fill="#084d96"/>
<rect x="744.5" y="220.0" width="16.0" height="2.5" fill="#084c95"/>
<rect x="744.5" y="218.0" width="16.0" height="2.5" fill="#084b93"/>
<rect x="744.5" y="216.0" width="16.0" height="2.5" fill="#084b93"/>
<rect x="744.5" y="214.0" width="16.0" height="2.5" fill="#084a91"/>
<rect x="744.5" y="212.0" width="16.0" height="2.5" fill="#084990"/>
<rect x="744.5" y="210.0" width="16.0" height="2.5" fill="#08488e"/>
<rect x="744.5" y="208.0" width="16.0" height="2.5" fill="#08478d"/>
<rect x="744.5" y="206.0" width="16.0" height="2.5" fill="#08468b"/>
<rect x="744.5" y="204.0" width="16.0" height="2.5" fill="#08458a"/>
<rect x="744.5" y="202.0" width="16.0" height="2.5" fill="#084488"/>
<rect x="744.5" y="200.0" width="16.0" height="2.5" fill="#084387"/>
<rect x="744.5" y="198.0" width="16.0" height="2.5" fill="#084285"/>
<rect x="744.5" y="196.0" width="16.0" height="2.5" fill="#084184"/>
<rect x="744.5" y="194.0" width="16.0" height="2.5" fill="#084184"/>
<rect x="744.5" y="192.0" width="16.0" height="2.5" fill="#084082"/>
<rect x="744.5" y="190.0" width="16.0" height="2.5" fill="#083e81"/>
<rect x="744.5" y="188.0" width="16.0" height="2.5" fill="#083d7f"/>
<rect x="744.5" y="186.0" width="16.0" height="2.5" fill="#083c7d"/>
<rect x="744.5" y="184.0" width="16.0" height="2.5" fill="#083b7c"/>
<rect x="744.5" y="182.0" width="16.0" height="2.5" fill="#083a7a"/>
<rect x="744.5" y="180.0" width="16.0" height="2.5" fill="#083979"/>
<rect x="744.5" y="178.0" width="16.0" height="2.5" fill="#083877"/>
<rect x="744.5" y="176.0" width="16.0" height="2.5" fill="#083776"/>
<rect x="744.5" y="174.0" width="16.0" height="2.5" fill="#083674"/>
<rect x="744.5" y="172.0" width="16.0" height="2.5" fill="#083573"/>
<rect x="744.5" y="170.0" width="16.0" height="2.5" fill="#083573"/>
<rect x="744.5" y="168.0" width="16.0" height="2.5" fill="#083471"/>
<rect x="744.5" y="166.0" width="16.0" height="2.5" fill="#083370"/>
<rect x="744.5" y="164.0" width="16.0" height="2.5" fill="#08326e"/>
<rect x="744.5" y="162.0" width="16.0" height="2.5" fill="#08316d"/>
<rect x="744.5" y="160.0" width="16.0" height="2.5" fill="#08306b"/>
</g>
<g fill="none" stroke-width="1.39" stroke-linejoin="round" stroke-linecap="butt">
<path d="M168.50 136.50V93.50H186.50V136.50" stroke="#008000"/>
<path d="M203.50 136.50V116.50H221.50V136.50" stroke="#ff0000"/>
<path d="M238.50 136.50V123.50H256.50V136.50" stroke="#ff0000"/>
<path d="M273.50 136.50V112.50H291.50V136.50" stroke="#ff0000"/>
<path d="M247.50 123.50V106.50H282.50V112.50" stroke="#ff0000"/>
<path d="M343.50 136.50V118.50H361.50V136.50" stroke="#ff0000"/>
<path d="M326.50 136.50V114.50H352.50V118.50" stroke="#ff0000"/>
<path d="M308.50 136.50V100.50H339.50V114.50" stroke="#ff0000"/>
<path d="M265.50 106.50V92.50H324.50V100.50" stroke="#ff0000"/>
<path d="M212.50 116.50V80.50H294.50V92.50" stroke="#ff0000"/>
<path d="M378.50 136.50V97.50H396.50V136.50" stroke="#00bfbf"/>
<path d="M413.50 136.50V113.50H431.50V136.50" stroke="#00bfbf"/>
<path d="M483.50 136.50V124.50H501.50V136.50" stroke="#00bfbf"/>
<path d="M466.50 136.50V118.50H492.50V124.50" stroke="#00bfbf"/>
<path d="M536.50 136.50V127.50H553.50V136.50" stroke="#00bfbf"/>
<path d="M518.50 136.50V117.50H545.50V127.50" stroke="#00bfbf"/>
<path d="M479.50 118.50V115.50H531.50V117.50" stroke="#00bfbf"/>
<path d="M448.50 136.50V106.50H505.50V115.50" stroke="#00bfbf"/>
<path d="M422.50 113.50V99.50H477.50V106.50" stroke="#00bfbf"/>
<path d="M606.50 136.50V112.50H623.50V136.50" stroke="#00bfbf"/>
<path d="M588.50 136.50V103.50H615.50V112.50" stroke="#00bfbf"/>
<path d="M571.50 136.50V97.50H601.50V103.50" stroke="#00bfbf"/>
<path d="M449.50 99.50V87.50H586.50V97.50" stroke="#00bfbf"/>
<path d="M387.50 97.50V68.50H518.50V87.50" stroke="#00bfbf"/>
<path d="M693.50 136.50V128.50H711.50V136.50" stroke="#bf00bf"/>
<path d="M676.50 136.50V113.50H702.50V128.50" stroke="#bf00bf"/>
<path d="M658.50 136.50V87.50H689.50V113.50" stroke="#bf00bf"/>
<path d="M641.50 136.50V67.50H674.50V87.50" stroke="#bf00bf"/>
<path d="M452.50 68.50V39.50H657.50V67.50" stroke="#0000ff"/>
<path d="M253.50 80.50V24.50H555.50V39.50" stroke="#0000ff"/>
<path d="M177.50 93.50V6.50H404.50V24.50" stroke="#0000ff"/>
<path d="M136.50 711.50H111.50V693.50H136.50" stroke="#008000"/>
<path d="M136.50 676.50H124.50V658.50H136.50" stroke="#ff0000"/>
<path d="M136.50 641.50H128.50V623.50H136.50" stroke="#ff0000"/>
<path d="M136.50 606.50H122.50V588.50H136.50" stroke="#ff0000"/>
<path d="M128.50 632.50H118.50V597.50H122.50" stroke="#ff0000"/>
<path d="M136.50 536.50H125.50V518.50H136.50" stroke="#ff0000"/>
<path d="M136.50 553.50H123.50V527.50H125.50" stroke="#ff0000"/>
<path d="M136.50 571.50H115.50V540.50H123.50" stroke="#ff0000"/>
<path d="M118.50 615.50H110.50V555.50H115.50" stroke="#ff0000"/>
<path d="M124.50 667.50H103.50V585.50H110.50" stroke="#ff0000"/>
<path d="M136.50 501.50H113.50V483.50H136.50" stroke="#00bfbf"/>
<path d="M136.50 466.50H122.50V448.50H136.50" stroke="#00bfbf"/>
<path d="M136.50 396.50H129.50V378.50H136.50" stroke="#00bfbf"/>
<path d="M136.50 413.50H125.50V387.50H129.50" stroke="#00bfbf"/>
<path d="M136.50 343.50H131.50V326.50H136.50" stroke="#00bfbf"/>
<path d="M136.50 361.50H125.50V335.50H131.50" stroke="#00bfbf"/>
<path d="M125.50 400.50H123.50V348.50H125.50" stroke="#00bfbf"/>
<path d="M136.50 431.50H118.50V374.50H123.50" stroke="#00bfbf"/>
<path d="M122.50 457.50H114.50V402.50H118.50" stroke="#00bfbf"/>
<path d="M136.50 273.50H122.50V256.50H136.50" stroke="#00bfbf"/>
<path d="M136.50 291.50H116.50V265.50H122.50" stroke="#00bfbf"/>
<path d="M136.50 308.50H113.50V278.50H116.50" stroke="#00bfbf"/>
<path d="M114.50 430.50H107.50V293.50H113.50" stroke="#00bfbf"/>
<path d="M113.50 492.50H96.50V361.50H107.50" stroke="#00bfbf"/>
<path d="M136.50 186.50H131.50V168.50H136.50" stroke="#bf00bf"/>
<path d="M136.50 203.50H122.50V177.50H131.50" stroke="#bf00bf"/>
<path d="M136.50 221.50H107.50V190.50H122.50" stroke="#bf00bf"/>
<path d="M136.50 238.50H95.50V205.50H107.50" stroke="#bf00bf"/>
<path d="M96.50 427.50H79.50V222.50H95.50" stroke="#0000ff"/>
<path d="M103.50 626.50H70.50V324.50H79.50" stroke="#0000ff"/>
<path d="M111.50 702.50H59.50V475.50H70.50" stroke="#0000ff"/>
</g>
<g fill="none" stroke="#000" stroke-width="1.39">
<rect x="160.5" y="160.5" width="560" height="560"/>
<rect x="56.5" y="160.5" width="80" height="560"/>
<rect x="160.5" y="0.5" width="560" height="136"/>
<rect x="744.5" y="160.5" width="16" height="560"/>
<path d="M160.5 106.5h5.6M720.5 106.5h-5.6" stroke-width="0.7"/>
<path d="M160.5 76.5h5.6M720.5 76.5h-5.6" stroke-width="0.7"/>
<path d="M160.5 46.5h5.6M720.5 46.5h-5.6" stroke-width="0.7"/>
<path d="M160.5 17.5h5.6M720.5 17.5h-5.6" stroke-width="0.7"/>
<path d="M760.5 720.5h-5.6" stroke-width="0.7"/>
<path d="M760.5 655.5h-5.6" stroke-width="0.7"/>
<path d="M760.5 591.5h-5.6" stroke-width="0.7"/>
<path d="M760.5 526.5h-5.6" stroke-width="0.7"/>
<path d="M760.5 461.5h-5.6" stroke-width="0.7"/>
<path d="M760.5 397.5h-5.6" stroke-width="0.7"/>
<path d="M760.5 332.5h-5.6" stroke-width="0.7"/>
<path d="M760.5 267.5h-5.6" stroke-width="0.7"/>
<path d="M760.5 203.5h-5.6" stroke-width="0.7"/>
</g>
<g text-anchor="end">
<text x="154.6" y="142.2">0.0</text>
<text x="154.6" y="112.2">0.1</text>
<text x="154.6" y="82.2">0.2</text>
<text x="154.6" y="52.2">0.3</text>
<text x="154.6" y="22.2">0.4</text>
</g><g text-anchor="start">
<text x="764.3" y="726">0.00</text>
<text x="764.3" y="661">0.05</text>
<text x="764.3" y="596">0.10</text>
<text x="764.3" y="532">0.15</text>
<text x="764.3" y="467">0.20</text>
<text x="764.3" y="403">0.25</text>
<text x="764.3" y="338">0.30</text>
<text x="764.3" y="273">0.35</text>
<text x="764.3" y="209">0.40</text>
</g>
</svg></body></html>
